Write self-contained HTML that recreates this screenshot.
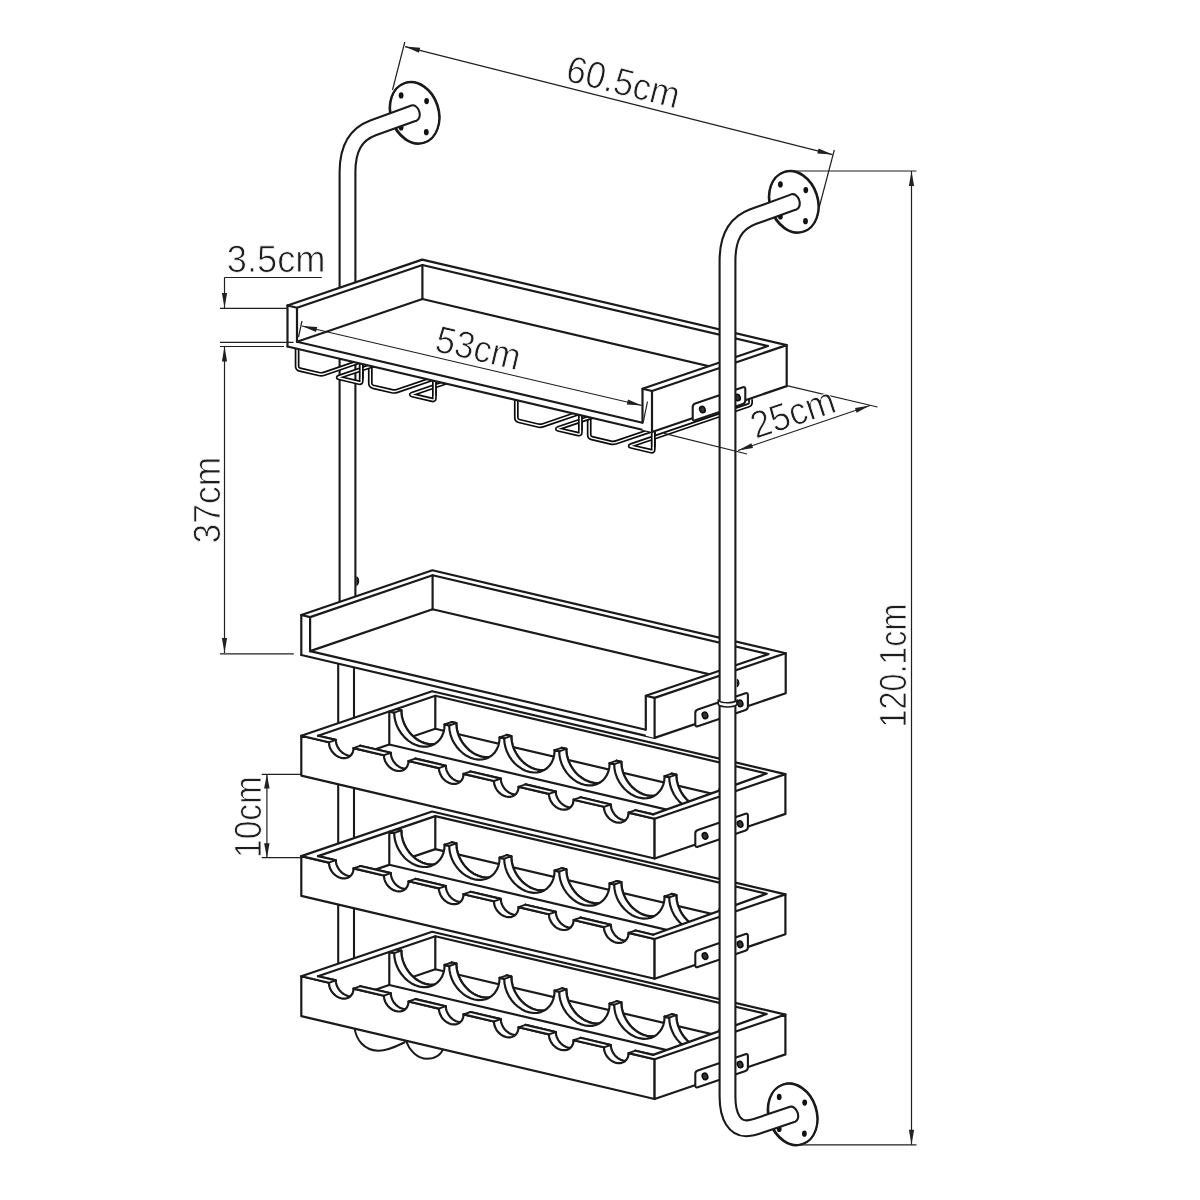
<!DOCTYPE html>
<html><head><meta charset="utf-8"><title>Wine rack dimensions</title>
<style>html,body{margin:0;padding:0;background:#fff}svg{display:block} text{text-rendering:geometricPrecision}</style></head>
<body>
<svg width="1200" height="1200" viewBox="0 0 1200 1200">
<g transform="translate(414.4,113) rotate(-18)"><ellipse rx="24" ry="31.4" fill="#fff" stroke="#1a1a1a" stroke-width="2.1"/><ellipse cx="0.9" cy="-0.3" rx="23.9" ry="31.4" fill="none" stroke="#1a1a1a" stroke-width="1.5"/></g>
<ellipse cx="401.1" cy="95.4" rx="2.4" ry="3.1" fill="#111"/>
<ellipse cx="426.6" cy="101.1" rx="2.4" ry="3.1" fill="#111"/>
<ellipse cx="401.1" cy="127.4" rx="2.4" ry="3.1" fill="#111"/>
<ellipse cx="426.3" cy="132.2" rx="2.4" ry="3.1" fill="#111"/>
<path d="M346.1 1005 L346.1 640" fill="none" stroke="#1a1a1a" stroke-width="17.9"/>
<path d="M346.1 1005 L346.1 640" fill="none" stroke="#fff" stroke-width="13.7"/>
<path d="M347.5 640 L347.5 172 C347.5 149 355 134.6 373 127.9 L414.1 113" fill="none" stroke="#1a1a1a" stroke-width="17.9"/>
<ellipse cx="414.1" cy="113" rx="5.4" ry="7.9" transform="rotate(-18.5 414.1 113)" fill="#fff" stroke="#1a1a1a" stroke-width="2.1"/>
<path d="M347.5 640 L347.5 172 C347.5 149 355 134.6 373 127.9 L414.1 113" fill="none" stroke="#fff" stroke-width="13.7"/>
<path d="M356.3 576.3 C360.2 577 360.2 585.4 356.3 586 Z" fill="#1a1a1a"/>
<path d="M354.4 1027 C356 1040 364 1050 378 1050.7 C388 1051 397 1046 405.3 1042" fill="none" stroke="#1a1a1a" stroke-width="2"/>
<path d="M406 1040 C409 1051 418 1058.5 427 1058.7 C435 1058.7 441 1055 443.6 1048" fill="none" stroke="#1a1a1a" stroke-width="2"/>
<path d="M297.1 345.8 L297.1 366.2 Q297.1 369 299.9 369.6 L318.8 374 Q321.5 374.7 324.1 373.8 L361.2 361.1" fill="none" stroke="#0c0c0c" stroke-width="4.8" stroke-linejoin="round" stroke-linecap="butt"/>
<path d="M297.1 345.8 L297.1 366.2 Q297.1 369 299.9 369.6 L318.8 374 Q321.5 374.7 324.1 373.8 L361.2 361.1" fill="none" stroke="#fff" stroke-width="1.4" stroke-linejoin="round" stroke-linecap="butt"/>
<path d="M370.3 362.9 L370.3 383.3 Q370.3 386.1 373 386.8 L391.9 391.2 Q394.6 391.8 397.2 390.9 L434.3 378.3" fill="none" stroke="#0c0c0c" stroke-width="4.8" stroke-linejoin="round" stroke-linecap="butt"/>
<path d="M370.3 362.9 L370.3 383.3 Q370.3 386.1 373 386.8 L391.9 391.2 Q394.6 391.8 397.2 390.9 L434.3 378.3" fill="none" stroke="#fff" stroke-width="1.4" stroke-linejoin="round" stroke-linecap="butt"/>
<path d="M516.3 397.2 L516.3 417.6 Q516.3 420.4 519 421 L537.9 425.5 Q540.6 426.1 543.3 425.2 L580.4 412.5" fill="none" stroke="#0c0c0c" stroke-width="4.8" stroke-linejoin="round" stroke-linecap="butt"/>
<path d="M516.3 397.2 L516.3 417.6 Q516.3 420.4 519 421 L537.9 425.5 Q540.6 426.1 543.3 425.2 L580.4 412.5" fill="none" stroke="#fff" stroke-width="1.4" stroke-linejoin="round" stroke-linecap="butt"/>
<path d="M589.2 414.3 L589.2 434.7 Q589.2 437.5 591.9 438.1 L610.8 442.6 Q613.5 443.2 616.2 442.3 L653.3 429.7" fill="none" stroke="#0c0c0c" stroke-width="4.8" stroke-linejoin="round" stroke-linecap="butt"/>
<path d="M589.2 414.3 L589.2 434.7 Q589.2 437.5 591.9 438.1 L610.8 442.6 Q613.5 443.2 616.2 442.3 L653.3 429.7" fill="none" stroke="#fff" stroke-width="1.4" stroke-linejoin="round" stroke-linecap="butt"/>
<path d="M361.3 360.8 L361.3 381 Q361.3 383.2 359.2 382.7 L339.2 378 Q337.1 377.5 339.1 376.8 L376.8 364" fill="none" stroke="#0c0c0c" stroke-width="4.8" stroke-linejoin="round" stroke-linecap="butt"/>
<path d="M361.3 360.8 L361.3 381 Q361.3 383.2 359.2 382.7 L339.2 378 Q337.1 377.5 339.1 376.8 L376.8 364" fill="none" stroke="#fff" stroke-width="1.4" stroke-linejoin="round" stroke-linecap="butt"/>
<path d="M361.3 360.8 L361.3 378.8" fill="none" stroke="#0c0c0c" stroke-width="4.8"/>
<path d="M361.3 360.8 L361.3 380.3" fill="none" stroke="#fff" stroke-width="1.4"/>
<path d="M434.4 378 L434.4 398.2 Q434.4 400.4 432.3 399.9 L412.3 395.2 Q410.2 394.7 412.2 394 L449.9 381.1" fill="none" stroke="#0c0c0c" stroke-width="4.8" stroke-linejoin="round" stroke-linecap="butt"/>
<path d="M434.4 378 L434.4 398.2 Q434.4 400.4 432.3 399.9 L412.3 395.2 Q410.2 394.7 412.2 394 L449.9 381.1" fill="none" stroke="#fff" stroke-width="1.4" stroke-linejoin="round" stroke-linecap="butt"/>
<path d="M434.4 378 L434.4 396" fill="none" stroke="#0c0c0c" stroke-width="4.8"/>
<path d="M434.4 378 L434.4 397.5" fill="none" stroke="#fff" stroke-width="1.4"/>
<path d="M580.4 412.2 L580.4 432.4 Q580.4 434.6 578.3 434.1 L558.3 429.5 Q556.2 428.9 558.3 428.2 L596 415.4" fill="none" stroke="#0c0c0c" stroke-width="4.8" stroke-linejoin="round" stroke-linecap="butt"/>
<path d="M580.4 412.2 L580.4 432.4 Q580.4 434.6 578.3 434.1 L558.3 429.5 Q556.2 428.9 558.3 428.2 L596 415.4" fill="none" stroke="#fff" stroke-width="1.4" stroke-linejoin="round" stroke-linecap="butt"/>
<path d="M580.4 412.2 L580.4 430.2" fill="none" stroke="#0c0c0c" stroke-width="4.8"/>
<path d="M580.4 412.2 L580.4 431.7" fill="none" stroke="#fff" stroke-width="1.4"/>
<path d="M653.3 429.3 L653.3 449.5 Q653.3 451.7 651.1 451.2 L631.2 446.5 Q629 446 631.1 445.3 L748.6 405.3 Q750.6 404.6 750.6 402.4 L750.6 399.2" fill="none" stroke="#0c0c0c" stroke-width="4.8" stroke-linejoin="round" stroke-linecap="butt"/>
<path d="M653.3 429.3 L653.3 449.5 Q653.3 451.7 651.1 451.2 L631.2 446.5 Q629 446 631.1 445.3 L748.6 405.3 Q750.6 404.6 750.6 402.4 L750.6 399.2" fill="none" stroke="#fff" stroke-width="1.4" stroke-linejoin="round" stroke-linecap="butt"/>
<path d="M653.3 429.3 L653.3 447.3" fill="none" stroke="#0c0c0c" stroke-width="4.8"/>
<path d="M653.3 429.3 L653.3 448.8" fill="none" stroke="#fff" stroke-width="1.4"/>
<path d="M287.5 305.5 L422.2 259.6 L786.7 345.1 L786.7 386.1 L652 432 L287.5 346.5Z" fill="#fff" stroke="none"/>
<path d="M297 341.7 L422.4 299 L767.9 380" fill="none" stroke="#1a1a1a" stroke-width="2.2" stroke-linejoin="round" stroke-linecap="round" />
<path d="M422.4 265 L422.4 299" fill="none" stroke="#1a1a1a" stroke-width="2.2" stroke-linejoin="round" stroke-linecap="round" />
<path d="M297 307.7 L422.4 265 L767.9 346" fill="none" stroke="#1a1a1a" stroke-width="2.2" stroke-linejoin="round" stroke-linecap="round" />
<path d="M287.5 305.5 L422.2 259.6 L786.7 345.1" fill="none" stroke="#1a1a1a" stroke-width="2.2" stroke-linejoin="round" stroke-linecap="round" />
<path d="M287.5 305.5 L297 307.7 L297 341.7" fill="none" stroke="#1a1a1a" stroke-width="2.2" stroke-linejoin="round" stroke-linecap="round" />
<path d="M287.5 305.5 L287.5 346.5" fill="none" stroke="#1a1a1a" stroke-width="2.2" stroke-linejoin="round" stroke-linecap="round" />
<path d="M297 341.7 L642.5 422.8" fill="none" stroke="#1a1a1a" stroke-width="2.2" stroke-linejoin="round" stroke-linecap="round" />
<path d="M287.5 346.5 L652 432" fill="none" stroke="#1a1a1a" stroke-width="2.2" stroke-linejoin="round" stroke-linecap="round" />
<path d="M642.5 388.8 L767.9 346 L786.7 345.1 L786.7 386.1 L652 432 L642.5 429.8Z" fill="#fff" stroke="none"/>
<path d="M642.5 422.8 L642.5 388.8 L767.9 346" fill="none" stroke="#1a1a1a" stroke-width="2.2" stroke-linejoin="round" stroke-linecap="round" />
<path d="M642.5 388.8 L652 391" fill="none" stroke="#1a1a1a" stroke-width="2.2" stroke-linejoin="round" stroke-linecap="round" />
<path d="M652 391 L786.7 345.1 L786.7 386.1 L652 432Z" fill="#fff" stroke="#1a1a1a" stroke-width="2.2" stroke-linejoin="round"/>
<path d="M767.9 346 L786.7 345.1" fill="none" stroke="#1a1a1a" stroke-width="0" stroke-linejoin="round" stroke-linecap="round" />
<path d="M692.7 407.1 Q692.7 404.5 695.2 403.6 L742.9 387.3 Q745.3 386.5 745.3 389.1 L745.3 400.6 Q745.3 403.2 742.9 404 L695.2 420.3 Q692.7 421.2 692.7 418.6 Z" fill="#fff" stroke="#1a1a1a" stroke-width="2.1" stroke-linejoin="round"/>
<ellipse cx="702.4" cy="409.5" rx="2.7" ry="3.3" transform="rotate(-19 702.4 409.5)" fill="#333" stroke="#0a0a0a" stroke-width="1.5"/>
<ellipse cx="737.5" cy="397.5" rx="2.7" ry="3.3" transform="rotate(-19 737.5 397.5)" fill="#333" stroke="#0a0a0a" stroke-width="1.5"/>
<path d="M301.3 615 L432.4 570.3 L785.7 653.2 L785.7 693.2 L654.6 737.9 L301.3 655Z" fill="#fff" stroke="none"/>
<path d="M310.1 651.1 L432.6 609.3 L768.4 688.1" fill="none" stroke="#1a1a1a" stroke-width="2.2" stroke-linejoin="round" stroke-linecap="round" />
<path d="M432.6 575.3 L432.6 609.3" fill="none" stroke="#1a1a1a" stroke-width="2.2" stroke-linejoin="round" stroke-linecap="round" />
<path d="M310.1 617.1 L432.6 575.3 L768.4 654.1" fill="none" stroke="#1a1a1a" stroke-width="2.2" stroke-linejoin="round" stroke-linecap="round" />
<path d="M301.3 615 L432.4 570.3 L785.7 653.2" fill="none" stroke="#1a1a1a" stroke-width="2.2" stroke-linejoin="round" stroke-linecap="round" />
<path d="M301.3 615 L310.1 617.1 L310.1 651.1" fill="none" stroke="#1a1a1a" stroke-width="2.2" stroke-linejoin="round" stroke-linecap="round" />
<path d="M301.3 615 L301.3 655" fill="none" stroke="#1a1a1a" stroke-width="2.2" stroke-linejoin="round" stroke-linecap="round" />
<path d="M310.1 651.1 L645.8 729.8" fill="none" stroke="#1a1a1a" stroke-width="2.2" stroke-linejoin="round" stroke-linecap="round" />
<path d="M301.3 655 L654.6 737.9" fill="none" stroke="#1a1a1a" stroke-width="2.2" stroke-linejoin="round" stroke-linecap="round" />
<path d="M645.8 695.8 L768.4 654.1 L785.7 653.2 L785.7 693.2 L654.6 737.9 L645.8 735.8Z" fill="#fff" stroke="none"/>
<path d="M645.8 729.8 L645.8 695.8 L768.4 654.1" fill="none" stroke="#1a1a1a" stroke-width="2.2" stroke-linejoin="round" stroke-linecap="round" />
<path d="M645.8 695.8 L654.6 697.9" fill="none" stroke="#1a1a1a" stroke-width="2.2" stroke-linejoin="round" stroke-linecap="round" />
<path d="M654.6 697.9 L785.7 653.2 L785.7 693.2 L654.6 737.9Z" fill="#fff" stroke="#1a1a1a" stroke-width="2.2" stroke-linejoin="round"/>
<path d="M768.4 654.1 L785.7 653.2" fill="none" stroke="#1a1a1a" stroke-width="0" stroke-linejoin="round" stroke-linecap="round" />
<path d="M695.3 712.9 Q695.3 710.3 697.8 709.5 L745.5 693.2 Q747.9 692.4 747.9 695 L747.9 706.5 Q747.9 709.1 745.5 709.9 L697.8 726.2 Q695.3 727 695.3 724.4 Z" fill="#fff" stroke="#1a1a1a" stroke-width="2.1" stroke-linejoin="round"/>
<ellipse cx="705" cy="715.3" rx="2.7" ry="3.3" transform="rotate(-19 705 715.3)" fill="#333" stroke="#0a0a0a" stroke-width="1.5"/>
<ellipse cx="740.1" cy="703.4" rx="2.7" ry="3.3" transform="rotate(-19 740.1 703.4)" fill="#333" stroke="#0a0a0a" stroke-width="1.5"/>
<path d="M301.3 735.8 L432.1 691.2 L785.4 774.1 L785.4 813.9 L654.6 858.5 L301.3 775.6Z" fill="#fff" stroke="none"/>
<path d="M318 768.8 L435.3 728.8 L766.7 806.5" fill="none" stroke="#1a1a1a" stroke-width="2.2" stroke-linejoin="round" stroke-linecap="round" />
<path d="M435.3 695.8 L435.3 728.8" fill="none" stroke="#1a1a1a" stroke-width="2.2" stroke-linejoin="round" stroke-linecap="round" />
<path d="M396.4 709 L401.3 710.2 L401.6 714.6 L402.5 719 L404 723.3 L406.1 727.5 L408.7 731.4 L411.7 734.9 L415 738 L418.7 740.5 L422.5 742.4 L426.5 743.7 L430.4 744.3 L434.3 744.2 L437.9 743.4 L441.3 741.9 L444.3 739.8 L446.9 737.1 L449 733.9 L450.5 730.2 L451.4 726.3 L451.7 722 L456.3 723.1 L456.6 727.5 L457.5 731.9 L459 736.3 L461.1 740.4 L463.7 744.3 L466.7 747.8 L470 750.9 L473.7 753.4 L477.6 755.3 L481.5 756.6 L485.4 757.2 L489.3 757.1 L492.9 756.3 L496.3 754.8 L499.3 752.7 L501.9 750 L504 746.8 L505.5 743.2 L506.4 739.2 L506.7 734.9 L511.3 736 L511.6 740.4 L512.5 744.8 L514 749.2 L516.1 753.3 L518.7 757.2 L521.7 760.8 L525.1 763.8 L528.7 766.3 L532.6 768.2 L536.5 769.5 L540.4 770.1 L544.3 770 L547.9 769.2 L551.3 767.7 L554.3 765.6 L556.9 762.9 L559 759.7 L560.5 756.1 L561.4 752.1 L561.7 747.8 L566.3 748.9 L566.6 753.3 L567.5 757.7 L569 762.1 L571.1 766.2 L573.7 770.1 L576.7 773.7 L580.1 776.7 L583.7 779.2 L587.6 781.1 L591.5 782.4 L595.5 783 L599.3 782.9 L603 782.1 L606.3 780.6 L609.3 778.5 L611.9 775.8 L614 772.6 L615.5 769 L616.4 765 L616.7 760.7 L621.3 761.8 L621.6 766.2 L622.5 770.6 L624 775 L626.1 779.2 L628.7 783 L631.7 786.6 L635.1 789.6 L638.7 792.1 L642.6 794.1 L646.5 795.3 L650.5 795.9 L654.3 795.8 L658 795 L661.3 793.5 L664.3 791.4 L666.9 788.7 L669 785.5 L670.5 781.9 L671.4 777.9 L671.7 773.6 L676.3 774.7 L676.6 779.1 L677.5 783.5 L679.1 787.9 L681.1 792.1 L683.7 796 L686.7 799.5 L690.1 802.5 L693.7 805 L697.6 807 L701.5 808.2 L705.5 808.8 L709.3 808.7 L713 807.9 L716.3 806.4 L719.3 804.3 L721.9 801.6 L724 798.4 L725.5 794.8 L726.4 790.8 L726.7 786.5 L729.3 787.1 L729.3 820.1 L396.4 742Z" fill="#fff" stroke="none"/>
<path d="M401.3 710.2 L401.6 714.6 L402.5 719 L404 723.3 L406.1 727.5 L408.7 731.4 L411.7 734.9 L415 738 L418.7 740.5 L422.5 742.4 L426.5 743.7 L430.4 744.3 L434.3 744.2 L437.9 743.4 L441.3 741.9 L444.3 739.8 L446.9 737.1 L449 733.9 L450.5 730.2 L451.4 726.3 L451.7 722 L456.3 723.1 L456.6 727.5 L457.5 731.9 L459 736.3 L461.1 740.4 L463.7 744.3 L466.7 747.8 L470 750.9 L473.7 753.4 L477.6 755.3 L481.5 756.6 L485.4 757.2 L489.3 757.1 L492.9 756.3 L496.3 754.8 L499.3 752.7 L501.9 750 L504 746.8 L505.5 743.2 L506.4 739.2 L506.7 734.9 L511.3 736 L511.6 740.4 L512.5 744.8 L514 749.2 L516.1 753.3 L518.7 757.2 L521.7 760.8 L525.1 763.8 L528.7 766.3 L532.6 768.2 L536.5 769.5 L540.4 770.1 L544.3 770 L547.9 769.2 L551.3 767.7 L554.3 765.6 L556.9 762.9 L559 759.7 L560.5 756.1 L561.4 752.1 L561.7 747.8 L566.3 748.9 L566.6 753.3 L567.5 757.7 L569 762.1 L571.1 766.2 L573.7 770.1 L576.7 773.7 L580.1 776.7 L583.7 779.2 L587.6 781.1 L591.5 782.4 L595.5 783 L599.3 782.9 L603 782.1 L606.3 780.6 L609.3 778.5 L611.9 775.8 L614 772.6 L615.5 769 L616.4 765 L616.7 760.7 L621.3 761.8 L621.6 766.2 L622.5 770.6 L624 775 L626.1 779.2 L628.7 783 L631.7 786.6 L635.1 789.6 L638.7 792.1 L642.6 794.1 L646.5 795.3 L650.5 795.9 L654.3 795.8 L658 795 L661.3 793.5 L664.3 791.4 L666.9 788.7 L669 785.5 L670.5 781.9 L671.4 777.9 L671.7 773.6 L676.3 774.7 L676.6 779.1 L677.5 783.5 L679.1 787.9 L681.1 792.1 L683.7 796 L686.7 799.5 L690.1 802.5 L693.7 805 L697.6 807 L701.5 808.2 L705.5 808.8 L709.3 808.7 L713 807.9 L716.3 806.4 L719.3 804.3 L721.9 801.6 L724 798.4 L725.5 794.8 L726.4 790.8 L726.7 786.5" fill="none" stroke="#1a1a1a" stroke-width="2.2" stroke-linejoin="round" stroke-linecap="round" />
<path d="M394.2 712.6 L394.3 714.8 L394.5 717 L394.9 719.2 L395.4 721.4 L396.1 723.6 L396.9 725.8 L397.9 727.9 L399 729.9 L400.2 731.9 L401.6 733.8 L403 735.7 L404.6 737.4 L406.2 739 L407.9 740.4 L409.7 741.7 L411.6 742.9 L413.5 744 L415.4 744.8 L417.4 745.6 L419.4 746.1 L421.4 746.5 L423.3 746.7 L425.3 746.7 L427.2 746.6 L429 746.3 L430.8 745.8 L437.9 743.4 L436.1 743.9 L434.3 744.2 L432.4 744.3 L430.4 744.3 L428.5 744.1 L426.5 743.7 L424.5 743.1 L422.5 742.4 L420.6 741.5 L418.7 740.5 L416.8 739.3 L415 738 L413.3 736.5 L411.7 734.9 L410.1 733.2 L408.7 731.4 L407.3 729.5 L406.1 727.5 L405 725.5 L404 723.3 L403.2 721.2 L402.5 719 L402 716.8 L401.6 714.6 L401.4 712.4 L401.3 710.2Z" fill="#fff" stroke="none"/>
<path d="M401.3 710.2 L401.4 712.4 L401.6 714.6 L402 716.8 L402.5 719 L403.2 721.2 L404 723.3 L405 725.5 L406.1 727.5 L407.3 729.5 L408.7 731.4 L410.1 733.2 L411.7 734.9 L413.3 736.5 L415 738 L416.8 739.3 L418.7 740.5 L420.6 741.5 L422.5 742.4 L424.5 743.1 L426.5 743.7 L428.5 744.1 L430.4 744.3 L432.4 744.3 L434.3 744.2 L436.1 743.9 L437.9 743.4" fill="none" stroke="#1a1a1a" stroke-width="2.2" stroke-linejoin="round" stroke-linecap="round" />
<path d="M449.2 725.5 L449.3 727.7 L449.5 729.9 L449.9 732.1 L450.4 734.3 L451.1 736.5 L451.9 738.7 L452.9 740.8 L454 742.9 L455.2 744.8 L456.6 746.7 L458 748.6 L459.6 750.3 L461.2 751.9 L463 753.3 L464.7 754.7 L466.6 755.8 L468.5 756.9 L470.5 757.8 L472.4 758.5 L474.4 759 L476.4 759.4 L478.3 759.6 L480.3 759.6 L482.2 759.5 L484 759.2 L485.8 758.7 L492.9 756.3 L491.1 756.8 L489.3 757.1 L487.4 757.2 L485.4 757.2 L483.5 757 L481.5 756.6 L479.5 756 L477.6 755.3 L475.6 754.5 L473.7 753.4 L471.8 752.2 L470 750.9 L468.3 749.4 L466.7 747.8 L465.1 746.1 L463.7 744.3 L462.3 742.4 L461.1 740.4 L460 738.4 L459 736.3 L458.2 734.1 L457.5 731.9 L457 729.7 L456.6 727.5 L456.4 725.3 L456.3 723.1Z" fill="#fff" stroke="none"/>
<path d="M456.3 723.1 L456.4 725.3 L456.6 727.5 L457 729.7 L457.5 731.9 L458.2 734.1 L459 736.3 L460 738.4 L461.1 740.4 L462.3 742.4 L463.7 744.3 L465.1 746.1 L466.7 747.8 L468.3 749.4 L470 750.9 L471.8 752.2 L473.7 753.4 L475.6 754.5 L477.6 755.3 L479.5 756 L481.5 756.6 L483.5 757 L485.4 757.2 L487.4 757.2 L489.3 757.1 L491.1 756.8 L492.9 756.3" fill="none" stroke="#1a1a1a" stroke-width="2.2" stroke-linejoin="round" stroke-linecap="round" />
<path d="M504.2 738.4 L504.3 740.6 L504.5 742.8 L504.9 745 L505.4 747.2 L506.1 749.4 L506.9 751.6 L507.9 753.7 L509 755.8 L510.2 757.7 L511.6 759.7 L513 761.5 L514.6 763.2 L516.2 764.8 L518 766.2 L519.8 767.6 L521.6 768.7 L523.5 769.8 L525.5 770.7 L527.4 771.4 L529.4 771.9 L531.4 772.3 L533.3 772.5 L535.3 772.5 L537.2 772.4 L539.1 772.1 L540.9 771.6 L547.9 769.2 L546.2 769.7 L544.3 770 L542.4 770.1 L540.4 770.1 L538.5 769.9 L536.5 769.5 L534.5 769 L532.6 768.2 L530.6 767.4 L528.7 766.3 L526.9 765.1 L525.1 763.8 L523.3 762.3 L521.7 760.8 L520.1 759 L518.7 757.2 L517.3 755.3 L516.1 753.3 L515 751.3 L514 749.2 L513.2 747 L512.5 744.8 L512 742.6 L511.6 740.4 L511.4 738.2 L511.3 736Z" fill="#fff" stroke="none"/>
<path d="M511.3 736 L511.4 738.2 L511.6 740.4 L512 742.6 L512.5 744.8 L513.2 747 L514 749.2 L515 751.3 L516.1 753.3 L517.3 755.3 L518.7 757.2 L520.1 759 L521.7 760.8 L523.3 762.3 L525.1 763.8 L526.9 765.1 L528.7 766.3 L530.6 767.4 L532.6 768.2 L534.5 769 L536.5 769.5 L538.5 769.9 L540.4 770.1 L542.4 770.1 L544.3 770 L546.2 769.7 L547.9 769.2" fill="none" stroke="#1a1a1a" stroke-width="2.2" stroke-linejoin="round" stroke-linecap="round" />
<path d="M559.2 751.3 L559.3 753.5 L559.5 755.7 L559.9 757.9 L560.4 760.1 L561.1 762.3 L561.9 764.5 L562.9 766.6 L564 768.7 L565.2 770.7 L566.6 772.6 L568 774.4 L569.6 776.1 L571.2 777.7 L573 779.1 L574.8 780.5 L576.6 781.7 L578.5 782.7 L580.5 783.6 L582.4 784.3 L584.4 784.8 L586.4 785.2 L588.4 785.4 L590.3 785.4 L592.2 785.3 L594.1 785 L595.9 784.5 L603 782.1 L601.2 782.6 L599.3 782.9 L597.4 783 L595.5 783 L593.5 782.8 L591.5 782.4 L589.5 781.9 L587.6 781.1 L585.6 780.3 L583.7 779.2 L581.9 778 L580.1 776.7 L578.3 775.3 L576.7 773.7 L575.1 772 L573.7 770.1 L572.3 768.2 L571.1 766.2 L570 764.2 L569 762.1 L568.2 759.9 L567.5 757.7 L567 755.5 L566.6 753.3 L566.4 751.1 L566.3 748.9Z" fill="#fff" stroke="none"/>
<path d="M566.3 748.9 L566.4 751.1 L566.6 753.3 L567 755.5 L567.5 757.7 L568.2 759.9 L569 762.1 L570 764.2 L571.1 766.2 L572.3 768.2 L573.7 770.1 L575.1 772 L576.7 773.7 L578.3 775.3 L580.1 776.7 L581.9 778 L583.7 779.2 L585.6 780.3 L587.6 781.1 L589.5 781.9 L591.5 782.4 L593.5 782.8 L595.5 783 L597.4 783 L599.3 782.9 L601.2 782.6 L603 782.1" fill="none" stroke="#1a1a1a" stroke-width="2.2" stroke-linejoin="round" stroke-linecap="round" />
<path d="M614.2 764.2 L614.3 766.4 L614.5 768.6 L614.9 770.8 L615.4 773 L616.1 775.2 L616.9 777.4 L617.9 779.5 L619 781.6 L620.2 783.6 L621.6 785.5 L623 787.3 L624.6 789 L626.2 790.6 L628 792 L629.8 793.4 L631.6 794.6 L633.5 795.6 L635.5 796.5 L637.4 797.2 L639.4 797.7 L641.4 798.1 L643.4 798.3 L645.3 798.4 L647.2 798.2 L649.1 797.9 L650.9 797.4 L658 795 L656.2 795.5 L654.3 795.8 L652.4 795.9 L650.5 795.9 L648.5 795.7 L646.5 795.3 L644.5 794.8 L642.6 794.1 L640.6 793.2 L638.7 792.1 L636.9 791 L635.1 789.6 L633.3 788.2 L631.7 786.6 L630.1 784.9 L628.7 783 L627.3 781.1 L626.1 779.2 L625 777.1 L624 775 L623.2 772.8 L622.5 770.6 L622 768.4 L621.6 766.2 L621.4 764 L621.3 761.8Z" fill="#fff" stroke="none"/>
<path d="M621.3 761.8 L621.4 764 L621.6 766.2 L622 768.4 L622.5 770.6 L623.2 772.8 L624 775 L625 777.1 L626.1 779.2 L627.3 781.1 L628.7 783 L630.1 784.9 L631.7 786.6 L633.3 788.2 L635.1 789.6 L636.9 791 L638.7 792.1 L640.6 793.2 L642.6 794.1 L644.5 794.8 L646.5 795.3 L648.5 795.7 L650.5 795.9 L652.4 795.9 L654.3 795.8 L656.2 795.5 L658 795" fill="none" stroke="#1a1a1a" stroke-width="2.2" stroke-linejoin="round" stroke-linecap="round" />
<path d="M669.2 777.1 L669.3 779.3 L669.5 781.5 L669.9 783.7 L670.4 785.9 L671.1 788.1 L672 790.3 L672.9 792.4 L674 794.5 L675.2 796.5 L676.6 798.4 L678 800.2 L679.6 801.9 L681.2 803.5 L683 804.9 L684.8 806.3 L686.6 807.5 L688.5 808.5 L690.5 809.4 L692.4 810.1 L694.4 810.6 L696.4 811 L698.4 811.2 L700.3 811.3 L702.2 811.1 L704.1 810.8 L705.9 810.3 L713 807.9 L711.2 808.4 L709.3 808.7 L707.4 808.8 L705.5 808.8 L703.5 808.6 L701.5 808.2 L699.5 807.7 L697.6 807 L695.6 806.1 L693.7 805 L691.9 803.9 L690.1 802.5 L688.3 801.1 L686.7 799.5 L685.1 797.8 L683.7 796 L682.3 794 L681.1 792.1 L680 790 L679.1 787.9 L678.2 785.7 L677.5 783.5 L677 781.3 L676.6 779.1 L676.4 776.9 L676.3 774.7Z" fill="#fff" stroke="none"/>
<path d="M676.3 774.7 L676.4 776.9 L676.6 779.1 L677 781.3 L677.5 783.5 L678.2 785.7 L679.1 787.9 L680 790 L681.1 792.1 L682.3 794 L683.7 796 L685.1 797.8 L686.7 799.5 L688.3 801.1 L690.1 802.5 L691.9 803.9 L693.7 805 L695.6 806.1 L697.6 807 L699.5 807.7 L701.5 808.2 L703.5 808.6 L705.5 808.8 L707.4 808.8 L709.3 808.7 L711.2 808.4 L713 807.9" fill="none" stroke="#1a1a1a" stroke-width="2.2" stroke-linejoin="round" stroke-linecap="round" />
<path d="M389.3 711.5 L394.2 712.6 L394.5 717 L395.4 721.4 L396.9 725.8 L399 729.9 L401.6 733.8 L404.6 737.4 L407.9 740.4 L411.6 742.9 L415.4 744.8 L419.4 746.1 L423.3 746.7 L427.2 746.6 L430.8 745.8 L434.2 744.3 L437.2 742.2 L439.8 739.5 L441.9 736.3 L443.4 732.7 L444.3 728.7 L444.6 724.4 L449.2 725.5 L449.5 729.9 L450.4 734.3 L451.9 738.7 L454 742.9 L456.6 746.7 L459.6 750.3 L463 753.3 L466.6 755.8 L470.5 757.8 L474.4 759 L478.3 759.6 L482.2 759.5 L485.8 758.7 L489.2 757.2 L492.2 755.1 L494.8 752.4 L496.9 749.2 L498.4 745.6 L499.3 741.6 L499.6 737.3 L504.2 738.4 L504.5 742.8 L505.4 747.2 L506.9 751.6 L509 755.8 L511.6 759.7 L514.6 763.2 L518 766.2 L521.6 768.7 L525.5 770.7 L529.4 771.9 L533.3 772.5 L537.2 772.4 L540.9 771.6 L544.2 770.1 L547.2 768 L549.8 765.3 L551.9 762.1 L553.4 758.5 L554.3 754.5 L554.6 750.2 L559.2 751.3 L559.5 755.7 L560.4 760.1 L561.9 764.5 L564 768.7 L566.6 772.6 L569.6 776.1 L573 779.1 L576.6 781.7 L580.5 783.6 L584.4 784.8 L588.4 785.4 L592.2 785.3 L595.9 784.5 L599.2 783 L602.2 780.9 L604.8 778.2 L606.9 775 L608.4 771.4 L609.3 767.4 L609.6 763.1 L614.2 764.2 L614.5 768.6 L615.4 773 L616.9 777.4 L619 781.6 L621.6 785.5 L624.6 789 L628 792 L631.6 794.6 L635.5 796.5 L639.4 797.7 L643.4 798.3 L647.2 798.2 L650.9 797.4 L654.2 795.9 L657.2 793.8 L659.8 791.1 L661.9 787.9 L663.4 784.3 L664.3 780.3 L664.6 776.1 L669.2 777.1 L669.5 781.5 L670.4 785.9 L672 790.3 L674 794.5 L676.6 798.4 L679.6 801.9 L683 804.9 L686.6 807.5 L690.5 809.4 L694.4 810.6 L698.4 811.2 L702.2 811.1 L705.9 810.3 L709.2 808.9 L712.2 806.7 L714.8 804.1 L716.9 800.8 L718.4 797.2 L719.3 793.2 L719.6 789 L722.2 789.6 L722.2 822.6 L389.3 744.5Z" fill="#fff" stroke="none"/>
<path d="M722.2 822.6 L389.3 744.5 L389.3 711.5 L394.2 712.6 L394.5 717 L395.4 721.4 L396.9 725.8 L399 729.9 L401.6 733.8 L404.6 737.4 L407.9 740.4 L411.6 742.9 L415.4 744.8 L419.4 746.1 L423.3 746.7 L427.2 746.6 L430.8 745.8 L434.2 744.3 L437.2 742.2 L439.8 739.5 L441.9 736.3 L443.4 732.7 L444.3 728.7 L444.6 724.4 L449.2 725.5 L449.5 729.9 L450.4 734.3 L451.9 738.7 L454 742.9 L456.6 746.7 L459.6 750.3 L463 753.3 L466.6 755.8 L470.5 757.8 L474.4 759 L478.3 759.6 L482.2 759.5 L485.8 758.7 L489.2 757.2 L492.2 755.1 L494.8 752.4 L496.9 749.2 L498.4 745.6 L499.3 741.6 L499.6 737.3 L504.2 738.4 L504.5 742.8 L505.4 747.2 L506.9 751.6 L509 755.8 L511.6 759.7 L514.6 763.2 L518 766.2 L521.6 768.7 L525.5 770.7 L529.4 771.9 L533.3 772.5 L537.2 772.4 L540.9 771.6 L544.2 770.1 L547.2 768 L549.8 765.3 L551.9 762.1 L553.4 758.5 L554.3 754.5 L554.6 750.2 L559.2 751.3 L559.5 755.7 L560.4 760.1 L561.9 764.5 L564 768.7 L566.6 772.6 L569.6 776.1 L573 779.1 L576.6 781.7 L580.5 783.6 L584.4 784.8 L588.4 785.4 L592.2 785.3 L595.9 784.5 L599.2 783 L602.2 780.9 L604.8 778.2 L606.9 775 L608.4 771.4 L609.3 767.4 L609.6 763.1 L614.2 764.2 L614.5 768.6 L615.4 773 L616.9 777.4 L619 781.6 L621.6 785.5 L624.6 789 L628 792 L631.6 794.6 L635.5 796.5 L639.4 797.7 L643.4 798.3 L647.2 798.2 L650.9 797.4 L654.2 795.9 L657.2 793.8 L659.8 791.1 L661.9 787.9 L663.4 784.3 L664.3 780.3 L664.6 776.1 L669.2 777.1 L669.5 781.5 L670.4 785.9 L672 790.3 L674 794.5 L676.6 798.4 L679.6 801.9 L683 804.9 L686.6 807.5 L690.5 809.4 L694.4 810.6 L698.4 811.2 L702.2 811.1 L705.9 810.3 L709.2 808.9 L712.2 806.7 L714.8 804.1 L716.9 800.8 L718.4 797.2 L719.3 793.2 L719.6 789 L722.2 789.6" fill="none" stroke="#1a1a1a" stroke-width="2.2" stroke-linejoin="round" stroke-linecap="round" />
<path d="M389.3 711.5 L394.2 712.6 L401.3 710.2 L396.4 709Z" fill="#fff" stroke="none"/>
<path d="M394.2 712.6 L401.3 710.2" fill="none" stroke="#1a1a1a" stroke-width="1.9" stroke-linejoin="round" stroke-linecap="round" />
<path d="M396.4 709 L401.3 710.2" fill="none" stroke="#1a1a1a" stroke-width="2.2" stroke-linejoin="round" stroke-linecap="round" />
<path d="M389.3 711.5 L394.2 712.6" fill="none" stroke="#1a1a1a" stroke-width="2.2" stroke-linejoin="round" stroke-linecap="round" />
<path d="M444.6 724.4 L449.2 725.5 L456.3 723.1 L451.7 722Z" fill="#fff" stroke="none"/>
<path d="M444.6 724.4 L451.7 722" fill="none" stroke="#1a1a1a" stroke-width="1.9" stroke-linejoin="round" stroke-linecap="round" />
<path d="M449.2 725.5 L456.3 723.1" fill="none" stroke="#1a1a1a" stroke-width="1.9" stroke-linejoin="round" stroke-linecap="round" />
<path d="M451.7 722 L456.3 723.1" fill="none" stroke="#1a1a1a" stroke-width="2.2" stroke-linejoin="round" stroke-linecap="round" />
<path d="M444.6 724.4 L449.2 725.5" fill="none" stroke="#1a1a1a" stroke-width="2.2" stroke-linejoin="round" stroke-linecap="round" />
<path d="M499.6 737.3 L504.2 738.4 L511.3 736 L506.7 734.9Z" fill="#fff" stroke="none"/>
<path d="M499.6 737.3 L506.7 734.9" fill="none" stroke="#1a1a1a" stroke-width="1.9" stroke-linejoin="round" stroke-linecap="round" />
<path d="M504.2 738.4 L511.3 736" fill="none" stroke="#1a1a1a" stroke-width="1.9" stroke-linejoin="round" stroke-linecap="round" />
<path d="M506.7 734.9 L511.3 736" fill="none" stroke="#1a1a1a" stroke-width="2.2" stroke-linejoin="round" stroke-linecap="round" />
<path d="M499.6 737.3 L504.2 738.4" fill="none" stroke="#1a1a1a" stroke-width="2.2" stroke-linejoin="round" stroke-linecap="round" />
<path d="M554.6 750.2 L559.2 751.3 L566.3 748.9 L561.7 747.8Z" fill="#fff" stroke="none"/>
<path d="M554.6 750.2 L561.7 747.8" fill="none" stroke="#1a1a1a" stroke-width="1.9" stroke-linejoin="round" stroke-linecap="round" />
<path d="M559.2 751.3 L566.3 748.9" fill="none" stroke="#1a1a1a" stroke-width="1.9" stroke-linejoin="round" stroke-linecap="round" />
<path d="M561.7 747.8 L566.3 748.9" fill="none" stroke="#1a1a1a" stroke-width="2.2" stroke-linejoin="round" stroke-linecap="round" />
<path d="M554.6 750.2 L559.2 751.3" fill="none" stroke="#1a1a1a" stroke-width="2.2" stroke-linejoin="round" stroke-linecap="round" />
<path d="M609.6 763.1 L614.2 764.2 L621.3 761.8 L616.7 760.7Z" fill="#fff" stroke="none"/>
<path d="M609.6 763.1 L616.7 760.7" fill="none" stroke="#1a1a1a" stroke-width="1.9" stroke-linejoin="round" stroke-linecap="round" />
<path d="M614.2 764.2 L621.3 761.8" fill="none" stroke="#1a1a1a" stroke-width="1.9" stroke-linejoin="round" stroke-linecap="round" />
<path d="M616.7 760.7 L621.3 761.8" fill="none" stroke="#1a1a1a" stroke-width="2.2" stroke-linejoin="round" stroke-linecap="round" />
<path d="M609.6 763.1 L614.2 764.2" fill="none" stroke="#1a1a1a" stroke-width="2.2" stroke-linejoin="round" stroke-linecap="round" />
<path d="M664.6 776.1 L669.2 777.1 L676.3 774.7 L671.7 773.6Z" fill="#fff" stroke="none"/>
<path d="M664.6 776.1 L671.7 773.6" fill="none" stroke="#1a1a1a" stroke-width="1.9" stroke-linejoin="round" stroke-linecap="round" />
<path d="M669.2 777.1 L676.3 774.7" fill="none" stroke="#1a1a1a" stroke-width="1.9" stroke-linejoin="round" stroke-linecap="round" />
<path d="M671.7 773.6 L676.3 774.7" fill="none" stroke="#1a1a1a" stroke-width="2.2" stroke-linejoin="round" stroke-linecap="round" />
<path d="M664.6 776.1 L669.2 777.1" fill="none" stroke="#1a1a1a" stroke-width="2.2" stroke-linejoin="round" stroke-linecap="round" />
<path d="M719.6 789 L722.2 789.6 L729.3 787.1 L726.7 786.5Z" fill="#fff" stroke="none"/>
<path d="M719.6 789 L726.7 786.5" fill="none" stroke="#1a1a1a" stroke-width="1.9" stroke-linejoin="round" stroke-linecap="round" />
<path d="M726.7 786.5 L729.3 787.1" fill="none" stroke="#1a1a1a" stroke-width="2.2" stroke-linejoin="round" stroke-linecap="round" />
<path d="M719.6 789 L722.2 789.6" fill="none" stroke="#1a1a1a" stroke-width="2.2" stroke-linejoin="round" stroke-linecap="round" />
<path d="M318 735.8 L335.8 739.9 L336 741.9 L336.4 744 L337.2 746 L338.2 747.9 L339.4 749.7 L340.9 751.3 L342.5 752.8 L344.3 753.9 L346.2 754.9 L348.1 755.5 L350.1 755.8 L351.9 755.7 L353.7 755.4 L355.4 754.7 L356.8 753.8 L358.1 752.6 L359.1 751.1 L359.8 749.5 L360.3 747.6 L360.4 745.7 L390.8 752.8 L391 754.8 L391.4 756.9 L392.2 758.9 L393.2 760.8 L394.4 762.6 L395.9 764.3 L397.5 765.7 L399.3 766.9 L401.2 767.8 L403.1 768.4 L405.1 768.7 L406.9 768.6 L408.7 768.3 L410.4 767.6 L411.8 766.7 L413.1 765.5 L414.1 764 L414.8 762.4 L415.3 760.6 L415.4 758.6 L445.8 765.7 L446 767.7 L446.4 769.8 L447.2 771.8 L448.2 773.7 L449.4 775.5 L450.9 777.2 L452.5 778.6 L454.3 779.8 L456.2 780.7 L458.1 781.3 L460.1 781.6 L461.9 781.5 L463.7 781.2 L465.4 780.6 L466.8 779.6 L468.1 778.4 L469.1 776.9 L469.8 775.3 L470.3 773.5 L470.5 771.5 L500.8 778.6 L501 780.7 L501.4 782.7 L502.2 784.7 L503.2 786.6 L504.4 788.4 L505.9 790.1 L507.6 791.5 L509.3 792.7 L511.2 793.6 L513.1 794.2 L515.1 794.5 L516.9 794.5 L518.7 794.1 L520.4 793.5 L521.8 792.5 L523.1 791.3 L524.1 789.8 L524.9 788.2 L525.3 786.4 L525.5 784.4 L555.8 791.5 L556 793.6 L556.4 795.6 L557.2 797.6 L558.2 799.5 L559.4 801.3 L560.9 803 L562.6 804.4 L564.3 805.6 L566.2 806.5 L568.1 807.1 L570.1 807.4 L572 807.4 L573.7 807 L575.4 806.4 L576.9 805.4 L578.1 804.2 L579.1 802.8 L579.9 801.1 L580.3 799.3 L580.5 797.3 L610.8 804.5 L611 806.5 L611.4 808.5 L612.2 810.5 L613.2 812.4 L614.4 814.2 L615.9 815.9 L617.6 817.3 L619.3 818.5 L621.2 819.4 L623.2 820 L625.1 820.3 L627 820.3 L628.7 819.9 L630.4 819.3 L631.9 818.3 L633.1 817.1 L634.1 815.7 L634.9 814 L635.3 812.2 L635.5 810.2 L653.1 814.4 L653.1 847.4 L318 768.8Z" fill="#fff" stroke="none"/>
<path d="M318 735.8 L335.8 739.9 L336 741.9 L336.4 744 L337.2 746 L338.2 747.9 L339.4 749.7 L340.9 751.3 L342.5 752.8 L344.3 753.9 L346.2 754.9 L348.1 755.5 L350.1 755.8 L351.9 755.7 L353.7 755.4 L355.4 754.7 L356.8 753.8 L358.1 752.6 L359.1 751.1 L359.8 749.5 L360.3 747.6 L360.4 745.7 L390.8 752.8 L391 754.8 L391.4 756.9 L392.2 758.9 L393.2 760.8 L394.4 762.6 L395.9 764.3 L397.5 765.7 L399.3 766.9 L401.2 767.8 L403.1 768.4 L405.1 768.7 L406.9 768.6 L408.7 768.3 L410.4 767.6 L411.8 766.7 L413.1 765.5 L414.1 764 L414.8 762.4 L415.3 760.6 L415.4 758.6 L445.8 765.7 L446 767.7 L446.4 769.8 L447.2 771.8 L448.2 773.7 L449.4 775.5 L450.9 777.2 L452.5 778.6 L454.3 779.8 L456.2 780.7 L458.1 781.3 L460.1 781.6 L461.9 781.5 L463.7 781.2 L465.4 780.6 L466.8 779.6 L468.1 778.4 L469.1 776.9 L469.8 775.3 L470.3 773.5 L470.5 771.5 L500.8 778.6 L501 780.7 L501.4 782.7 L502.2 784.7 L503.2 786.6 L504.4 788.4 L505.9 790.1 L507.6 791.5 L509.3 792.7 L511.2 793.6 L513.1 794.2 L515.1 794.5 L516.9 794.5 L518.7 794.1 L520.4 793.5 L521.8 792.5 L523.1 791.3 L524.1 789.8 L524.9 788.2 L525.3 786.4 L525.5 784.4 L555.8 791.5 L556 793.6 L556.4 795.6 L557.2 797.6 L558.2 799.5 L559.4 801.3 L560.9 803 L562.6 804.4 L564.3 805.6 L566.2 806.5 L568.1 807.1 L570.1 807.4 L572 807.4 L573.7 807 L575.4 806.4 L576.9 805.4 L578.1 804.2 L579.1 802.8 L579.9 801.1 L580.3 799.3 L580.5 797.3 L610.8 804.5 L611 806.5 L611.4 808.5 L612.2 810.5 L613.2 812.4 L614.4 814.2 L615.9 815.9 L617.6 817.3 L619.3 818.5 L621.2 819.4 L623.2 820 L625.1 820.3 L627 820.3 L628.7 819.9 L630.4 819.3 L631.9 818.3 L633.1 817.1 L634.1 815.7 L634.9 814 L635.3 812.2 L635.5 810.2 L653.1 814.4" fill="none" stroke="#1a1a1a" stroke-width="2.2" stroke-linejoin="round" stroke-linecap="round" />
<path d="M653.1 814.4 L766.7 773.5 L785.4 774.1 L785.4 813.9 L654.6 858.5 L646.2 856.5Z" fill="#fff" stroke="none"/>
<path d="M301.3 735.8 L328.9 742.3 L329.1 744.3 L329.5 746.3 L330.2 748.3 L331.3 750.3 L332.5 752.1 L334 753.7 L335.6 755.1 L337.4 756.3 L339.3 757.2 L341.2 757.8 L343.1 758.1 L345 758.1 L346.8 757.7 L348.5 757.1 L349.9 756.2 L351.2 754.9 L352.2 753.5 L352.9 751.8 L353.4 750 L353.5 748.1 L383.9 755.2 L384.1 757.2 L384.5 759.2 L385.2 761.2 L386.3 763.2 L387.5 765 L389 766.6 L390.6 768 L392.4 769.2 L394.3 770.1 L396.2 770.7 L398.1 771 L400 771 L401.8 770.7 L403.5 770 L404.9 769.1 L406.2 767.8 L407.2 766.4 L407.9 764.7 L408.4 762.9 L408.5 761 L438.9 768.1 L439.1 770.1 L439.5 772.1 L440.3 774.1 L441.3 776.1 L442.5 777.9 L444 779.5 L445.6 780.9 L447.4 782.1 L449.3 783 L451.2 783.6 L453.2 783.9 L455 783.9 L456.8 783.6 L458.5 782.9 L459.9 782 L461.2 780.8 L462.2 779.3 L462.9 777.6 L463.4 775.8 L463.5 773.9 L493.9 781 L494.1 783 L494.5 785 L495.3 787.1 L496.3 789 L497.5 790.8 L499 792.4 L500.6 793.8 L502.4 795 L504.3 795.9 L506.2 796.5 L508.2 796.8 L510 796.8 L511.8 796.5 L513.5 795.8 L514.9 794.9 L516.2 793.7 L517.2 792.2 L517.9 790.5 L518.4 788.7 L518.5 786.8 L548.9 793.9 L549.1 795.9 L549.5 798 L550.3 800 L551.3 801.9 L552.5 803.7 L554 805.3 L555.6 806.8 L557.4 807.9 L559.3 808.8 L561.2 809.4 L563.2 809.7 L565 809.7 L566.8 809.4 L568.5 808.7 L569.9 807.8 L571.2 806.6 L572.2 805.1 L573 803.5 L573.4 801.6 L573.6 799.7 L603.9 806.8 L604.1 808.8 L604.5 810.9 L605.3 812.9 L606.3 814.8 L607.5 816.6 L609 818.2 L610.7 819.7 L612.4 820.8 L614.3 821.7 L616.2 822.4 L618.2 822.6 L620 822.6 L621.8 822.3 L623.5 821.6 L625 820.7 L626.2 819.5 L627.2 818 L628 816.4 L628.4 814.5 L628.6 812.6 L654.6 818.7 L654.6 858.5 L301.3 775.6Z" fill="#fff" stroke="none"/>
<path d="M654.6 818.7 L654.6 858.5 L301.3 775.6 L301.3 735.8 L328.9 742.3 L329.1 744.3 L329.5 746.3 L330.2 748.3 L331.3 750.3 L332.5 752.1 L334 753.7 L335.6 755.1 L337.4 756.3 L339.3 757.2 L341.2 757.8 L343.1 758.1 L345 758.1 L346.8 757.7 L348.5 757.1 L349.9 756.2 L351.2 754.9 L352.2 753.5 L352.9 751.8 L353.4 750 L353.5 748.1 L383.9 755.2 L384.1 757.2 L384.5 759.2 L385.2 761.2 L386.3 763.2 L387.5 765 L389 766.6 L390.6 768 L392.4 769.2 L394.3 770.1 L396.2 770.7 L398.1 771 L400 771 L401.8 770.7 L403.5 770 L404.9 769.1 L406.2 767.8 L407.2 766.4 L407.9 764.7 L408.4 762.9 L408.5 761 L438.9 768.1 L439.1 770.1 L439.5 772.1 L440.3 774.1 L441.3 776.1 L442.5 777.9 L444 779.5 L445.6 780.9 L447.4 782.1 L449.3 783 L451.2 783.6 L453.2 783.9 L455 783.9 L456.8 783.6 L458.5 782.9 L459.9 782 L461.2 780.8 L462.2 779.3 L462.9 777.6 L463.4 775.8 L463.5 773.9 L493.9 781 L494.1 783 L494.5 785 L495.3 787.1 L496.3 789 L497.5 790.8 L499 792.4 L500.6 793.8 L502.4 795 L504.3 795.9 L506.2 796.5 L508.2 796.8 L510 796.8 L511.8 796.5 L513.5 795.8 L514.9 794.9 L516.2 793.7 L517.2 792.2 L517.9 790.5 L518.4 788.7 L518.5 786.8 L548.9 793.9 L549.1 795.9 L549.5 798 L550.3 800 L551.3 801.9 L552.5 803.7 L554 805.3 L555.6 806.8 L557.4 807.9 L559.3 808.8 L561.2 809.4 L563.2 809.7 L565 809.7 L566.8 809.4 L568.5 808.7 L569.9 807.8 L571.2 806.6 L572.2 805.1 L573 803.5 L573.4 801.6 L573.6 799.7 L603.9 806.8 L604.1 808.8 L604.5 810.9 L605.3 812.9 L606.3 814.8 L607.5 816.6 L609 818.2 L610.7 819.7 L612.4 820.8 L614.3 821.7 L616.2 822.4 L618.2 822.6 L620 822.6 L621.8 822.3 L623.5 821.6 L625 820.7 L626.2 819.5 L627.2 818 L628 816.4 L628.4 814.5 L628.6 812.6 L654.6 818.7" fill="none" stroke="#1a1a1a" stroke-width="2.2" stroke-linejoin="round" stroke-linecap="round" />
<path d="M301.3 735.8 L328.9 742.3 L335.8 739.9 L318 735.8Z" fill="#fff" stroke="none"/>
<path d="M328.9 742.3 L335.8 739.9" fill="none" stroke="#1a1a1a" stroke-width="1.9" stroke-linejoin="round" stroke-linecap="round" />
<path d="M318 735.8 L335.8 739.9" fill="none" stroke="#1a1a1a" stroke-width="2.2" stroke-linejoin="round" stroke-linecap="round" />
<path d="M301.3 735.8 L328.9 742.3" fill="none" stroke="#1a1a1a" stroke-width="2.2" stroke-linejoin="round" stroke-linecap="round" />
<path d="M353.5 748.1 L383.9 755.2 L390.8 752.8 L360.4 745.7Z" fill="#fff" stroke="none"/>
<path d="M353.5 748.1 L360.4 745.7" fill="none" stroke="#1a1a1a" stroke-width="1.9" stroke-linejoin="round" stroke-linecap="round" />
<path d="M383.9 755.2 L390.8 752.8" fill="none" stroke="#1a1a1a" stroke-width="1.9" stroke-linejoin="round" stroke-linecap="round" />
<path d="M360.4 745.7 L390.8 752.8" fill="none" stroke="#1a1a1a" stroke-width="2.2" stroke-linejoin="round" stroke-linecap="round" />
<path d="M353.5 748.1 L383.9 755.2" fill="none" stroke="#1a1a1a" stroke-width="2.2" stroke-linejoin="round" stroke-linecap="round" />
<path d="M408.5 761 L438.9 768.1 L445.8 765.7 L415.4 758.6Z" fill="#fff" stroke="none"/>
<path d="M408.5 761 L415.4 758.6" fill="none" stroke="#1a1a1a" stroke-width="1.9" stroke-linejoin="round" stroke-linecap="round" />
<path d="M438.9 768.1 L445.8 765.7" fill="none" stroke="#1a1a1a" stroke-width="1.9" stroke-linejoin="round" stroke-linecap="round" />
<path d="M415.4 758.6 L445.8 765.7" fill="none" stroke="#1a1a1a" stroke-width="2.2" stroke-linejoin="round" stroke-linecap="round" />
<path d="M408.5 761 L438.9 768.1" fill="none" stroke="#1a1a1a" stroke-width="2.2" stroke-linejoin="round" stroke-linecap="round" />
<path d="M463.5 773.9 L493.9 781 L500.8 778.6 L470.5 771.5Z" fill="#fff" stroke="none"/>
<path d="M463.5 773.9 L470.5 771.5" fill="none" stroke="#1a1a1a" stroke-width="1.9" stroke-linejoin="round" stroke-linecap="round" />
<path d="M493.9 781 L500.8 778.6" fill="none" stroke="#1a1a1a" stroke-width="1.9" stroke-linejoin="round" stroke-linecap="round" />
<path d="M470.5 771.5 L500.8 778.6" fill="none" stroke="#1a1a1a" stroke-width="2.2" stroke-linejoin="round" stroke-linecap="round" />
<path d="M463.5 773.9 L493.9 781" fill="none" stroke="#1a1a1a" stroke-width="2.2" stroke-linejoin="round" stroke-linecap="round" />
<path d="M518.5 786.8 L548.9 793.9 L555.8 791.5 L525.5 784.4Z" fill="#fff" stroke="none"/>
<path d="M518.5 786.8 L525.5 784.4" fill="none" stroke="#1a1a1a" stroke-width="1.9" stroke-linejoin="round" stroke-linecap="round" />
<path d="M548.9 793.9 L555.8 791.5" fill="none" stroke="#1a1a1a" stroke-width="1.9" stroke-linejoin="round" stroke-linecap="round" />
<path d="M525.5 784.4 L555.8 791.5" fill="none" stroke="#1a1a1a" stroke-width="2.2" stroke-linejoin="round" stroke-linecap="round" />
<path d="M518.5 786.8 L548.9 793.9" fill="none" stroke="#1a1a1a" stroke-width="2.2" stroke-linejoin="round" stroke-linecap="round" />
<path d="M573.6 799.7 L603.9 806.8 L610.8 804.5 L580.5 797.3Z" fill="#fff" stroke="none"/>
<path d="M573.6 799.7 L580.5 797.3" fill="none" stroke="#1a1a1a" stroke-width="1.9" stroke-linejoin="round" stroke-linecap="round" />
<path d="M603.9 806.8 L610.8 804.5" fill="none" stroke="#1a1a1a" stroke-width="1.9" stroke-linejoin="round" stroke-linecap="round" />
<path d="M580.5 797.3 L610.8 804.5" fill="none" stroke="#1a1a1a" stroke-width="2.2" stroke-linejoin="round" stroke-linecap="round" />
<path d="M573.6 799.7 L603.9 806.8" fill="none" stroke="#1a1a1a" stroke-width="2.2" stroke-linejoin="round" stroke-linecap="round" />
<path d="M628.6 812.6 L654.6 818.7 L653.1 814.4 L635.5 810.2Z" fill="#fff" stroke="none"/>
<path d="M628.6 812.6 L635.5 810.2" fill="none" stroke="#1a1a1a" stroke-width="1.9" stroke-linejoin="round" stroke-linecap="round" />
<path d="M635.5 810.2 L653.1 814.4" fill="none" stroke="#1a1a1a" stroke-width="2.2" stroke-linejoin="round" stroke-linecap="round" />
<path d="M628.6 812.6 L654.6 818.7" fill="none" stroke="#1a1a1a" stroke-width="2.2" stroke-linejoin="round" stroke-linecap="round" />
<path d="M301.3 735.8 L432.1 691.2 L785.4 774.1" fill="none" stroke="#1a1a1a" stroke-width="2.2" stroke-linejoin="round" stroke-linecap="round" />
<path d="M318 735.8 L435.3 695.8 L766.7 773.5 L653.1 814.4" fill="none" stroke="#1a1a1a" stroke-width="2.2" stroke-linejoin="round" stroke-linecap="round" />
<path d="M654.6 818.7 L785.4 774.1 L785.4 813.9 L654.6 858.5Z" fill="#fff" stroke="#1a1a1a" stroke-width="2.2" stroke-linejoin="round"/>
<path d="M695.3 833.5 Q695.3 830.9 697.8 830.1 L745.5 813.8 Q747.9 813 747.9 815.6 L747.9 827.1 Q747.9 829.7 745.5 830.5 L697.8 846.8 Q695.3 847.6 695.3 845 Z" fill="#fff" stroke="#1a1a1a" stroke-width="2.1" stroke-linejoin="round"/>
<ellipse cx="705" cy="835.9" rx="2.7" ry="3.3" transform="rotate(-19 705 835.9)" fill="#333" stroke="#0a0a0a" stroke-width="1.5"/>
<ellipse cx="740.1" cy="824" rx="2.7" ry="3.3" transform="rotate(-19 740.1 824)" fill="#333" stroke="#0a0a0a" stroke-width="1.5"/>
<path d="M301.3 856.1 L432.1 811.5 L785.4 894.4 L785.4 934.2 L654.6 978.8 L301.3 895.9Z" fill="#fff" stroke="none"/>
<path d="M318 889.1 L435.3 849.1 L766.7 926.8" fill="none" stroke="#1a1a1a" stroke-width="2.2" stroke-linejoin="round" stroke-linecap="round" />
<path d="M435.3 816.1 L435.3 849.1" fill="none" stroke="#1a1a1a" stroke-width="2.2" stroke-linejoin="round" stroke-linecap="round" />
<path d="M396.4 829.3 L401.3 830.5 L401.6 834.9 L402.5 839.3 L404 843.6 L406.1 847.8 L408.7 851.7 L411.7 855.2 L415 858.3 L418.7 860.8 L422.5 862.7 L426.5 864 L430.4 864.6 L434.3 864.5 L437.9 863.7 L441.3 862.2 L444.3 860.1 L446.9 857.4 L449 854.2 L450.5 850.5 L451.4 846.6 L451.7 842.3 L456.3 843.4 L456.6 847.8 L457.5 852.2 L459 856.6 L461.1 860.7 L463.7 864.6 L466.7 868.1 L470 871.2 L473.7 873.7 L477.6 875.6 L481.5 876.9 L485.4 877.5 L489.3 877.4 L492.9 876.6 L496.3 875.1 L499.3 873 L501.9 870.3 L504 867.1 L505.5 863.5 L506.4 859.5 L506.7 855.2 L511.3 856.3 L511.6 860.7 L512.5 865.1 L514 869.5 L516.1 873.6 L518.7 877.5 L521.7 881.1 L525.1 884.1 L528.7 886.6 L532.6 888.5 L536.5 889.8 L540.4 890.4 L544.3 890.3 L547.9 889.5 L551.3 888 L554.3 885.9 L556.9 883.2 L559 880 L560.5 876.4 L561.4 872.4 L561.7 868.1 L566.3 869.2 L566.6 873.6 L567.5 878 L569 882.4 L571.1 886.5 L573.7 890.4 L576.7 894 L580.1 897 L583.7 899.5 L587.6 901.4 L591.5 902.7 L595.5 903.3 L599.3 903.2 L603 902.4 L606.3 900.9 L609.3 898.8 L611.9 896.1 L614 892.9 L615.5 889.3 L616.4 885.3 L616.7 881 L621.3 882.1 L621.6 886.5 L622.5 890.9 L624 895.3 L626.1 899.5 L628.7 903.3 L631.7 906.9 L635.1 909.9 L638.7 912.4 L642.6 914.4 L646.5 915.6 L650.5 916.2 L654.3 916.1 L658 915.3 L661.3 913.8 L664.3 911.7 L666.9 909 L669 905.8 L670.5 902.2 L671.4 898.2 L671.7 893.9 L676.3 895 L676.6 899.4 L677.5 903.8 L679.1 908.2 L681.1 912.4 L683.7 916.3 L686.7 919.8 L690.1 922.8 L693.7 925.3 L697.6 927.3 L701.5 928.5 L705.5 929.1 L709.3 929 L713 928.2 L716.3 926.7 L719.3 924.6 L721.9 921.9 L724 918.7 L725.5 915.1 L726.4 911.1 L726.7 906.8 L729.3 907.4 L729.3 940.4 L396.4 862.3Z" fill="#fff" stroke="none"/>
<path d="M401.3 830.5 L401.6 834.9 L402.5 839.3 L404 843.6 L406.1 847.8 L408.7 851.7 L411.7 855.2 L415 858.3 L418.7 860.8 L422.5 862.7 L426.5 864 L430.4 864.6 L434.3 864.5 L437.9 863.7 L441.3 862.2 L444.3 860.1 L446.9 857.4 L449 854.2 L450.5 850.5 L451.4 846.6 L451.7 842.3 L456.3 843.4 L456.6 847.8 L457.5 852.2 L459 856.6 L461.1 860.7 L463.7 864.6 L466.7 868.1 L470 871.2 L473.7 873.7 L477.6 875.6 L481.5 876.9 L485.4 877.5 L489.3 877.4 L492.9 876.6 L496.3 875.1 L499.3 873 L501.9 870.3 L504 867.1 L505.5 863.5 L506.4 859.5 L506.7 855.2 L511.3 856.3 L511.6 860.7 L512.5 865.1 L514 869.5 L516.1 873.6 L518.7 877.5 L521.7 881.1 L525.1 884.1 L528.7 886.6 L532.6 888.5 L536.5 889.8 L540.4 890.4 L544.3 890.3 L547.9 889.5 L551.3 888 L554.3 885.9 L556.9 883.2 L559 880 L560.5 876.4 L561.4 872.4 L561.7 868.1 L566.3 869.2 L566.6 873.6 L567.5 878 L569 882.4 L571.1 886.5 L573.7 890.4 L576.7 894 L580.1 897 L583.7 899.5 L587.6 901.4 L591.5 902.7 L595.5 903.3 L599.3 903.2 L603 902.4 L606.3 900.9 L609.3 898.8 L611.9 896.1 L614 892.9 L615.5 889.3 L616.4 885.3 L616.7 881 L621.3 882.1 L621.6 886.5 L622.5 890.9 L624 895.3 L626.1 899.5 L628.7 903.3 L631.7 906.9 L635.1 909.9 L638.7 912.4 L642.6 914.4 L646.5 915.6 L650.5 916.2 L654.3 916.1 L658 915.3 L661.3 913.8 L664.3 911.7 L666.9 909 L669 905.8 L670.5 902.2 L671.4 898.2 L671.7 893.9 L676.3 895 L676.6 899.4 L677.5 903.8 L679.1 908.2 L681.1 912.4 L683.7 916.3 L686.7 919.8 L690.1 922.8 L693.7 925.3 L697.6 927.3 L701.5 928.5 L705.5 929.1 L709.3 929 L713 928.2 L716.3 926.7 L719.3 924.6 L721.9 921.9 L724 918.7 L725.5 915.1 L726.4 911.1 L726.7 906.8" fill="none" stroke="#1a1a1a" stroke-width="2.2" stroke-linejoin="round" stroke-linecap="round" />
<path d="M394.2 832.9 L394.3 835.1 L394.5 837.3 L394.9 839.5 L395.4 841.7 L396.1 843.9 L396.9 846.1 L397.9 848.2 L399 850.2 L400.2 852.2 L401.6 854.1 L403 856 L404.6 857.7 L406.2 859.3 L407.9 860.7 L409.7 862 L411.6 863.2 L413.5 864.3 L415.4 865.1 L417.4 865.9 L419.4 866.4 L421.4 866.8 L423.3 867 L425.3 867 L427.2 866.9 L429 866.6 L430.8 866.1 L437.9 863.7 L436.1 864.2 L434.3 864.5 L432.4 864.6 L430.4 864.6 L428.5 864.4 L426.5 864 L424.5 863.4 L422.5 862.7 L420.6 861.8 L418.7 860.8 L416.8 859.6 L415 858.3 L413.3 856.8 L411.7 855.2 L410.1 853.5 L408.7 851.7 L407.3 849.8 L406.1 847.8 L405 845.8 L404 843.6 L403.2 841.5 L402.5 839.3 L402 837.1 L401.6 834.9 L401.4 832.7 L401.3 830.5Z" fill="#fff" stroke="none"/>
<path d="M401.3 830.5 L401.4 832.7 L401.6 834.9 L402 837.1 L402.5 839.3 L403.2 841.5 L404 843.6 L405 845.8 L406.1 847.8 L407.3 849.8 L408.7 851.7 L410.1 853.5 L411.7 855.2 L413.3 856.8 L415 858.3 L416.8 859.6 L418.7 860.8 L420.6 861.8 L422.5 862.7 L424.5 863.4 L426.5 864 L428.5 864.4 L430.4 864.6 L432.4 864.6 L434.3 864.5 L436.1 864.2 L437.9 863.7" fill="none" stroke="#1a1a1a" stroke-width="2.2" stroke-linejoin="round" stroke-linecap="round" />
<path d="M449.2 845.8 L449.3 848 L449.5 850.2 L449.9 852.4 L450.4 854.6 L451.1 856.8 L451.9 859 L452.9 861.1 L454 863.2 L455.2 865.1 L456.6 867 L458 868.9 L459.6 870.6 L461.2 872.2 L463 873.6 L464.7 875 L466.6 876.1 L468.5 877.2 L470.5 878.1 L472.4 878.8 L474.4 879.3 L476.4 879.7 L478.3 879.9 L480.3 879.9 L482.2 879.8 L484 879.5 L485.8 879 L492.9 876.6 L491.1 877.1 L489.3 877.4 L487.4 877.5 L485.4 877.5 L483.5 877.3 L481.5 876.9 L479.5 876.3 L477.6 875.6 L475.6 874.8 L473.7 873.7 L471.8 872.5 L470 871.2 L468.3 869.7 L466.7 868.1 L465.1 866.4 L463.7 864.6 L462.3 862.7 L461.1 860.7 L460 858.7 L459 856.6 L458.2 854.4 L457.5 852.2 L457 850 L456.6 847.8 L456.4 845.6 L456.3 843.4Z" fill="#fff" stroke="none"/>
<path d="M456.3 843.4 L456.4 845.6 L456.6 847.8 L457 850 L457.5 852.2 L458.2 854.4 L459 856.6 L460 858.7 L461.1 860.7 L462.3 862.7 L463.7 864.6 L465.1 866.4 L466.7 868.1 L468.3 869.7 L470 871.2 L471.8 872.5 L473.7 873.7 L475.6 874.8 L477.6 875.6 L479.5 876.3 L481.5 876.9 L483.5 877.3 L485.4 877.5 L487.4 877.5 L489.3 877.4 L491.1 877.1 L492.9 876.6" fill="none" stroke="#1a1a1a" stroke-width="2.2" stroke-linejoin="round" stroke-linecap="round" />
<path d="M504.2 858.7 L504.3 860.9 L504.5 863.1 L504.9 865.3 L505.4 867.5 L506.1 869.7 L506.9 871.9 L507.9 874 L509 876.1 L510.2 878 L511.6 880 L513 881.8 L514.6 883.5 L516.2 885.1 L518 886.5 L519.8 887.9 L521.6 889 L523.5 890.1 L525.5 891 L527.4 891.7 L529.4 892.2 L531.4 892.6 L533.3 892.8 L535.3 892.8 L537.2 892.7 L539.1 892.4 L540.9 891.9 L547.9 889.5 L546.2 890 L544.3 890.3 L542.4 890.4 L540.4 890.4 L538.5 890.2 L536.5 889.8 L534.5 889.3 L532.6 888.5 L530.6 887.7 L528.7 886.6 L526.9 885.4 L525.1 884.1 L523.3 882.6 L521.7 881.1 L520.1 879.3 L518.7 877.5 L517.3 875.6 L516.1 873.6 L515 871.6 L514 869.5 L513.2 867.3 L512.5 865.1 L512 862.9 L511.6 860.7 L511.4 858.5 L511.3 856.3Z" fill="#fff" stroke="none"/>
<path d="M511.3 856.3 L511.4 858.5 L511.6 860.7 L512 862.9 L512.5 865.1 L513.2 867.3 L514 869.5 L515 871.6 L516.1 873.6 L517.3 875.6 L518.7 877.5 L520.1 879.3 L521.7 881.1 L523.3 882.6 L525.1 884.1 L526.9 885.4 L528.7 886.6 L530.6 887.7 L532.6 888.5 L534.5 889.3 L536.5 889.8 L538.5 890.2 L540.4 890.4 L542.4 890.4 L544.3 890.3 L546.2 890 L547.9 889.5" fill="none" stroke="#1a1a1a" stroke-width="2.2" stroke-linejoin="round" stroke-linecap="round" />
<path d="M559.2 871.6 L559.3 873.8 L559.5 876 L559.9 878.2 L560.4 880.4 L561.1 882.6 L561.9 884.8 L562.9 886.9 L564 889 L565.2 891 L566.6 892.9 L568 894.7 L569.6 896.4 L571.2 898 L573 899.4 L574.8 900.8 L576.6 902 L578.5 903 L580.5 903.9 L582.4 904.6 L584.4 905.1 L586.4 905.5 L588.4 905.7 L590.3 905.7 L592.2 905.6 L594.1 905.3 L595.9 904.8 L603 902.4 L601.2 902.9 L599.3 903.2 L597.4 903.3 L595.5 903.3 L593.5 903.1 L591.5 902.7 L589.5 902.2 L587.6 901.4 L585.6 900.6 L583.7 899.5 L581.9 898.3 L580.1 897 L578.3 895.6 L576.7 894 L575.1 892.3 L573.7 890.4 L572.3 888.5 L571.1 886.5 L570 884.5 L569 882.4 L568.2 880.2 L567.5 878 L567 875.8 L566.6 873.6 L566.4 871.4 L566.3 869.2Z" fill="#fff" stroke="none"/>
<path d="M566.3 869.2 L566.4 871.4 L566.6 873.6 L567 875.8 L567.5 878 L568.2 880.2 L569 882.4 L570 884.5 L571.1 886.5 L572.3 888.5 L573.7 890.4 L575.1 892.3 L576.7 894 L578.3 895.6 L580.1 897 L581.9 898.3 L583.7 899.5 L585.6 900.6 L587.6 901.4 L589.5 902.2 L591.5 902.7 L593.5 903.1 L595.5 903.3 L597.4 903.3 L599.3 903.2 L601.2 902.9 L603 902.4" fill="none" stroke="#1a1a1a" stroke-width="2.2" stroke-linejoin="round" stroke-linecap="round" />
<path d="M614.2 884.5 L614.3 886.7 L614.5 888.9 L614.9 891.1 L615.4 893.3 L616.1 895.5 L616.9 897.7 L617.9 899.8 L619 901.9 L620.2 903.9 L621.6 905.8 L623 907.6 L624.6 909.3 L626.2 910.9 L628 912.3 L629.8 913.7 L631.6 914.9 L633.5 915.9 L635.5 916.8 L637.4 917.5 L639.4 918 L641.4 918.4 L643.4 918.6 L645.3 918.7 L647.2 918.5 L649.1 918.2 L650.9 917.7 L658 915.3 L656.2 915.8 L654.3 916.1 L652.4 916.2 L650.5 916.2 L648.5 916 L646.5 915.6 L644.5 915.1 L642.6 914.4 L640.6 913.5 L638.7 912.4 L636.9 911.3 L635.1 909.9 L633.3 908.5 L631.7 906.9 L630.1 905.2 L628.7 903.3 L627.3 901.4 L626.1 899.5 L625 897.4 L624 895.3 L623.2 893.1 L622.5 890.9 L622 888.7 L621.6 886.5 L621.4 884.3 L621.3 882.1Z" fill="#fff" stroke="none"/>
<path d="M621.3 882.1 L621.4 884.3 L621.6 886.5 L622 888.7 L622.5 890.9 L623.2 893.1 L624 895.3 L625 897.4 L626.1 899.5 L627.3 901.4 L628.7 903.3 L630.1 905.2 L631.7 906.9 L633.3 908.5 L635.1 909.9 L636.9 911.3 L638.7 912.4 L640.6 913.5 L642.6 914.4 L644.5 915.1 L646.5 915.6 L648.5 916 L650.5 916.2 L652.4 916.2 L654.3 916.1 L656.2 915.8 L658 915.3" fill="none" stroke="#1a1a1a" stroke-width="2.2" stroke-linejoin="round" stroke-linecap="round" />
<path d="M669.2 897.4 L669.3 899.6 L669.5 901.8 L669.9 904 L670.4 906.2 L671.1 908.4 L672 910.6 L672.9 912.7 L674 914.8 L675.2 916.8 L676.6 918.7 L678 920.5 L679.6 922.2 L681.2 923.8 L683 925.2 L684.8 926.6 L686.6 927.8 L688.5 928.8 L690.5 929.7 L692.4 930.4 L694.4 930.9 L696.4 931.3 L698.4 931.5 L700.3 931.6 L702.2 931.4 L704.1 931.1 L705.9 930.6 L713 928.2 L711.2 928.7 L709.3 929 L707.4 929.1 L705.5 929.1 L703.5 928.9 L701.5 928.5 L699.5 928 L697.6 927.3 L695.6 926.4 L693.7 925.3 L691.9 924.2 L690.1 922.8 L688.3 921.4 L686.7 919.8 L685.1 918.1 L683.7 916.3 L682.3 914.3 L681.1 912.4 L680 910.3 L679.1 908.2 L678.2 906 L677.5 903.8 L677 901.6 L676.6 899.4 L676.4 897.2 L676.3 895Z" fill="#fff" stroke="none"/>
<path d="M676.3 895 L676.4 897.2 L676.6 899.4 L677 901.6 L677.5 903.8 L678.2 906 L679.1 908.2 L680 910.3 L681.1 912.4 L682.3 914.3 L683.7 916.3 L685.1 918.1 L686.7 919.8 L688.3 921.4 L690.1 922.8 L691.9 924.2 L693.7 925.3 L695.6 926.4 L697.6 927.3 L699.5 928 L701.5 928.5 L703.5 928.9 L705.5 929.1 L707.4 929.1 L709.3 929 L711.2 928.7 L713 928.2" fill="none" stroke="#1a1a1a" stroke-width="2.2" stroke-linejoin="round" stroke-linecap="round" />
<path d="M389.3 831.8 L394.2 832.9 L394.5 837.3 L395.4 841.7 L396.9 846.1 L399 850.2 L401.6 854.1 L404.6 857.7 L407.9 860.7 L411.6 863.2 L415.4 865.1 L419.4 866.4 L423.3 867 L427.2 866.9 L430.8 866.1 L434.2 864.6 L437.2 862.5 L439.8 859.8 L441.9 856.6 L443.4 853 L444.3 849 L444.6 844.7 L449.2 845.8 L449.5 850.2 L450.4 854.6 L451.9 859 L454 863.2 L456.6 867 L459.6 870.6 L463 873.6 L466.6 876.1 L470.5 878.1 L474.4 879.3 L478.3 879.9 L482.2 879.8 L485.8 879 L489.2 877.5 L492.2 875.4 L494.8 872.7 L496.9 869.5 L498.4 865.9 L499.3 861.9 L499.6 857.6 L504.2 858.7 L504.5 863.1 L505.4 867.5 L506.9 871.9 L509 876.1 L511.6 880 L514.6 883.5 L518 886.5 L521.6 889 L525.5 891 L529.4 892.2 L533.3 892.8 L537.2 892.7 L540.9 891.9 L544.2 890.4 L547.2 888.3 L549.8 885.6 L551.9 882.4 L553.4 878.8 L554.3 874.8 L554.6 870.5 L559.2 871.6 L559.5 876 L560.4 880.4 L561.9 884.8 L564 889 L566.6 892.9 L569.6 896.4 L573 899.4 L576.6 902 L580.5 903.9 L584.4 905.1 L588.4 905.7 L592.2 905.6 L595.9 904.8 L599.2 903.3 L602.2 901.2 L604.8 898.5 L606.9 895.3 L608.4 891.7 L609.3 887.7 L609.6 883.4 L614.2 884.5 L614.5 888.9 L615.4 893.3 L616.9 897.7 L619 901.9 L621.6 905.8 L624.6 909.3 L628 912.3 L631.6 914.9 L635.5 916.8 L639.4 918 L643.4 918.6 L647.2 918.5 L650.9 917.7 L654.2 916.2 L657.2 914.1 L659.8 911.4 L661.9 908.2 L663.4 904.6 L664.3 900.6 L664.6 896.4 L669.2 897.4 L669.5 901.8 L670.4 906.2 L672 910.6 L674 914.8 L676.6 918.7 L679.6 922.2 L683 925.2 L686.6 927.8 L690.5 929.7 L694.4 930.9 L698.4 931.5 L702.2 931.4 L705.9 930.6 L709.2 929.2 L712.2 927 L714.8 924.4 L716.9 921.1 L718.4 917.5 L719.3 913.5 L719.6 909.3 L722.2 909.9 L722.2 942.9 L389.3 864.8Z" fill="#fff" stroke="none"/>
<path d="M722.2 942.9 L389.3 864.8 L389.3 831.8 L394.2 832.9 L394.5 837.3 L395.4 841.7 L396.9 846.1 L399 850.2 L401.6 854.1 L404.6 857.7 L407.9 860.7 L411.6 863.2 L415.4 865.1 L419.4 866.4 L423.3 867 L427.2 866.9 L430.8 866.1 L434.2 864.6 L437.2 862.5 L439.8 859.8 L441.9 856.6 L443.4 853 L444.3 849 L444.6 844.7 L449.2 845.8 L449.5 850.2 L450.4 854.6 L451.9 859 L454 863.2 L456.6 867 L459.6 870.6 L463 873.6 L466.6 876.1 L470.5 878.1 L474.4 879.3 L478.3 879.9 L482.2 879.8 L485.8 879 L489.2 877.5 L492.2 875.4 L494.8 872.7 L496.9 869.5 L498.4 865.9 L499.3 861.9 L499.6 857.6 L504.2 858.7 L504.5 863.1 L505.4 867.5 L506.9 871.9 L509 876.1 L511.6 880 L514.6 883.5 L518 886.5 L521.6 889 L525.5 891 L529.4 892.2 L533.3 892.8 L537.2 892.7 L540.9 891.9 L544.2 890.4 L547.2 888.3 L549.8 885.6 L551.9 882.4 L553.4 878.8 L554.3 874.8 L554.6 870.5 L559.2 871.6 L559.5 876 L560.4 880.4 L561.9 884.8 L564 889 L566.6 892.9 L569.6 896.4 L573 899.4 L576.6 902 L580.5 903.9 L584.4 905.1 L588.4 905.7 L592.2 905.6 L595.9 904.8 L599.2 903.3 L602.2 901.2 L604.8 898.5 L606.9 895.3 L608.4 891.7 L609.3 887.7 L609.6 883.4 L614.2 884.5 L614.5 888.9 L615.4 893.3 L616.9 897.7 L619 901.9 L621.6 905.8 L624.6 909.3 L628 912.3 L631.6 914.9 L635.5 916.8 L639.4 918 L643.4 918.6 L647.2 918.5 L650.9 917.7 L654.2 916.2 L657.2 914.1 L659.8 911.4 L661.9 908.2 L663.4 904.6 L664.3 900.6 L664.6 896.4 L669.2 897.4 L669.5 901.8 L670.4 906.2 L672 910.6 L674 914.8 L676.6 918.7 L679.6 922.2 L683 925.2 L686.6 927.8 L690.5 929.7 L694.4 930.9 L698.4 931.5 L702.2 931.4 L705.9 930.6 L709.2 929.2 L712.2 927 L714.8 924.4 L716.9 921.1 L718.4 917.5 L719.3 913.5 L719.6 909.3 L722.2 909.9" fill="none" stroke="#1a1a1a" stroke-width="2.2" stroke-linejoin="round" stroke-linecap="round" />
<path d="M389.3 831.8 L394.2 832.9 L401.3 830.5 L396.4 829.3Z" fill="#fff" stroke="none"/>
<path d="M394.2 832.9 L401.3 830.5" fill="none" stroke="#1a1a1a" stroke-width="1.9" stroke-linejoin="round" stroke-linecap="round" />
<path d="M396.4 829.3 L401.3 830.5" fill="none" stroke="#1a1a1a" stroke-width="2.2" stroke-linejoin="round" stroke-linecap="round" />
<path d="M389.3 831.8 L394.2 832.9" fill="none" stroke="#1a1a1a" stroke-width="2.2" stroke-linejoin="round" stroke-linecap="round" />
<path d="M444.6 844.7 L449.2 845.8 L456.3 843.4 L451.7 842.3Z" fill="#fff" stroke="none"/>
<path d="M444.6 844.7 L451.7 842.3" fill="none" stroke="#1a1a1a" stroke-width="1.9" stroke-linejoin="round" stroke-linecap="round" />
<path d="M449.2 845.8 L456.3 843.4" fill="none" stroke="#1a1a1a" stroke-width="1.9" stroke-linejoin="round" stroke-linecap="round" />
<path d="M451.7 842.3 L456.3 843.4" fill="none" stroke="#1a1a1a" stroke-width="2.2" stroke-linejoin="round" stroke-linecap="round" />
<path d="M444.6 844.7 L449.2 845.8" fill="none" stroke="#1a1a1a" stroke-width="2.2" stroke-linejoin="round" stroke-linecap="round" />
<path d="M499.6 857.6 L504.2 858.7 L511.3 856.3 L506.7 855.2Z" fill="#fff" stroke="none"/>
<path d="M499.6 857.6 L506.7 855.2" fill="none" stroke="#1a1a1a" stroke-width="1.9" stroke-linejoin="round" stroke-linecap="round" />
<path d="M504.2 858.7 L511.3 856.3" fill="none" stroke="#1a1a1a" stroke-width="1.9" stroke-linejoin="round" stroke-linecap="round" />
<path d="M506.7 855.2 L511.3 856.3" fill="none" stroke="#1a1a1a" stroke-width="2.2" stroke-linejoin="round" stroke-linecap="round" />
<path d="M499.6 857.6 L504.2 858.7" fill="none" stroke="#1a1a1a" stroke-width="2.2" stroke-linejoin="round" stroke-linecap="round" />
<path d="M554.6 870.5 L559.2 871.6 L566.3 869.2 L561.7 868.1Z" fill="#fff" stroke="none"/>
<path d="M554.6 870.5 L561.7 868.1" fill="none" stroke="#1a1a1a" stroke-width="1.9" stroke-linejoin="round" stroke-linecap="round" />
<path d="M559.2 871.6 L566.3 869.2" fill="none" stroke="#1a1a1a" stroke-width="1.9" stroke-linejoin="round" stroke-linecap="round" />
<path d="M561.7 868.1 L566.3 869.2" fill="none" stroke="#1a1a1a" stroke-width="2.2" stroke-linejoin="round" stroke-linecap="round" />
<path d="M554.6 870.5 L559.2 871.6" fill="none" stroke="#1a1a1a" stroke-width="2.2" stroke-linejoin="round" stroke-linecap="round" />
<path d="M609.6 883.4 L614.2 884.5 L621.3 882.1 L616.7 881Z" fill="#fff" stroke="none"/>
<path d="M609.6 883.4 L616.7 881" fill="none" stroke="#1a1a1a" stroke-width="1.9" stroke-linejoin="round" stroke-linecap="round" />
<path d="M614.2 884.5 L621.3 882.1" fill="none" stroke="#1a1a1a" stroke-width="1.9" stroke-linejoin="round" stroke-linecap="round" />
<path d="M616.7 881 L621.3 882.1" fill="none" stroke="#1a1a1a" stroke-width="2.2" stroke-linejoin="round" stroke-linecap="round" />
<path d="M609.6 883.4 L614.2 884.5" fill="none" stroke="#1a1a1a" stroke-width="2.2" stroke-linejoin="round" stroke-linecap="round" />
<path d="M664.6 896.4 L669.2 897.4 L676.3 895 L671.7 893.9Z" fill="#fff" stroke="none"/>
<path d="M664.6 896.4 L671.7 893.9" fill="none" stroke="#1a1a1a" stroke-width="1.9" stroke-linejoin="round" stroke-linecap="round" />
<path d="M669.2 897.4 L676.3 895" fill="none" stroke="#1a1a1a" stroke-width="1.9" stroke-linejoin="round" stroke-linecap="round" />
<path d="M671.7 893.9 L676.3 895" fill="none" stroke="#1a1a1a" stroke-width="2.2" stroke-linejoin="round" stroke-linecap="round" />
<path d="M664.6 896.4 L669.2 897.4" fill="none" stroke="#1a1a1a" stroke-width="2.2" stroke-linejoin="round" stroke-linecap="round" />
<path d="M719.6 909.3 L722.2 909.9 L729.3 907.4 L726.7 906.8Z" fill="#fff" stroke="none"/>
<path d="M719.6 909.3 L726.7 906.8" fill="none" stroke="#1a1a1a" stroke-width="1.9" stroke-linejoin="round" stroke-linecap="round" />
<path d="M726.7 906.8 L729.3 907.4" fill="none" stroke="#1a1a1a" stroke-width="2.2" stroke-linejoin="round" stroke-linecap="round" />
<path d="M719.6 909.3 L722.2 909.9" fill="none" stroke="#1a1a1a" stroke-width="2.2" stroke-linejoin="round" stroke-linecap="round" />
<path d="M318 856.1 L335.8 860.2 L336 862.2 L336.4 864.3 L337.2 866.3 L338.2 868.2 L339.4 870 L340.9 871.6 L342.5 873.1 L344.3 874.2 L346.2 875.2 L348.1 875.8 L350.1 876.1 L351.9 876 L353.7 875.7 L355.4 875 L356.8 874.1 L358.1 872.9 L359.1 871.4 L359.8 869.8 L360.3 867.9 L360.4 866 L390.8 873.1 L391 875.1 L391.4 877.2 L392.2 879.2 L393.2 881.1 L394.4 882.9 L395.9 884.6 L397.5 886 L399.3 887.2 L401.2 888.1 L403.1 888.7 L405.1 889 L406.9 888.9 L408.7 888.6 L410.4 887.9 L411.8 887 L413.1 885.8 L414.1 884.3 L414.8 882.7 L415.3 880.9 L415.4 878.9 L445.8 886 L446 888 L446.4 890.1 L447.2 892.1 L448.2 894 L449.4 895.8 L450.9 897.5 L452.5 898.9 L454.3 900.1 L456.2 901 L458.1 901.6 L460.1 901.9 L461.9 901.8 L463.7 901.5 L465.4 900.9 L466.8 899.9 L468.1 898.7 L469.1 897.2 L469.8 895.6 L470.3 893.8 L470.5 891.8 L500.8 898.9 L501 901 L501.4 903 L502.2 905 L503.2 906.9 L504.4 908.7 L505.9 910.4 L507.6 911.8 L509.3 913 L511.2 913.9 L513.1 914.5 L515.1 914.8 L516.9 914.8 L518.7 914.4 L520.4 913.8 L521.8 912.8 L523.1 911.6 L524.1 910.1 L524.9 908.5 L525.3 906.7 L525.5 904.7 L555.8 911.8 L556 913.9 L556.4 915.9 L557.2 917.9 L558.2 919.8 L559.4 921.6 L560.9 923.3 L562.6 924.7 L564.3 925.9 L566.2 926.8 L568.1 927.4 L570.1 927.7 L572 927.7 L573.7 927.3 L575.4 926.7 L576.9 925.7 L578.1 924.5 L579.1 923.1 L579.9 921.4 L580.3 919.6 L580.5 917.6 L610.8 924.8 L611 926.8 L611.4 928.8 L612.2 930.8 L613.2 932.7 L614.4 934.5 L615.9 936.2 L617.6 937.6 L619.3 938.8 L621.2 939.7 L623.2 940.3 L625.1 940.6 L627 940.6 L628.7 940.2 L630.4 939.6 L631.9 938.6 L633.1 937.4 L634.1 936 L634.9 934.3 L635.3 932.5 L635.5 930.5 L653.1 934.7 L653.1 967.7 L318 889.1Z" fill="#fff" stroke="none"/>
<path d="M318 856.1 L335.8 860.2 L336 862.2 L336.4 864.3 L337.2 866.3 L338.2 868.2 L339.4 870 L340.9 871.6 L342.5 873.1 L344.3 874.2 L346.2 875.2 L348.1 875.8 L350.1 876.1 L351.9 876 L353.7 875.7 L355.4 875 L356.8 874.1 L358.1 872.9 L359.1 871.4 L359.8 869.8 L360.3 867.9 L360.4 866 L390.8 873.1 L391 875.1 L391.4 877.2 L392.2 879.2 L393.2 881.1 L394.4 882.9 L395.9 884.6 L397.5 886 L399.3 887.2 L401.2 888.1 L403.1 888.7 L405.1 889 L406.9 888.9 L408.7 888.6 L410.4 887.9 L411.8 887 L413.1 885.8 L414.1 884.3 L414.8 882.7 L415.3 880.9 L415.4 878.9 L445.8 886 L446 888 L446.4 890.1 L447.2 892.1 L448.2 894 L449.4 895.8 L450.9 897.5 L452.5 898.9 L454.3 900.1 L456.2 901 L458.1 901.6 L460.1 901.9 L461.9 901.8 L463.7 901.5 L465.4 900.9 L466.8 899.9 L468.1 898.7 L469.1 897.2 L469.8 895.6 L470.3 893.8 L470.5 891.8 L500.8 898.9 L501 901 L501.4 903 L502.2 905 L503.2 906.9 L504.4 908.7 L505.9 910.4 L507.6 911.8 L509.3 913 L511.2 913.9 L513.1 914.5 L515.1 914.8 L516.9 914.8 L518.7 914.4 L520.4 913.8 L521.8 912.8 L523.1 911.6 L524.1 910.1 L524.9 908.5 L525.3 906.7 L525.5 904.7 L555.8 911.8 L556 913.9 L556.4 915.9 L557.2 917.9 L558.2 919.8 L559.4 921.6 L560.9 923.3 L562.6 924.7 L564.3 925.9 L566.2 926.8 L568.1 927.4 L570.1 927.7 L572 927.7 L573.7 927.3 L575.4 926.7 L576.9 925.7 L578.1 924.5 L579.1 923.1 L579.9 921.4 L580.3 919.6 L580.5 917.6 L610.8 924.8 L611 926.8 L611.4 928.8 L612.2 930.8 L613.2 932.7 L614.4 934.5 L615.9 936.2 L617.6 937.6 L619.3 938.8 L621.2 939.7 L623.2 940.3 L625.1 940.6 L627 940.6 L628.7 940.2 L630.4 939.6 L631.9 938.6 L633.1 937.4 L634.1 936 L634.9 934.3 L635.3 932.5 L635.5 930.5 L653.1 934.7" fill="none" stroke="#1a1a1a" stroke-width="2.2" stroke-linejoin="round" stroke-linecap="round" />
<path d="M653.1 934.7 L766.7 893.8 L785.4 894.4 L785.4 934.2 L654.6 978.8 L646.2 976.8Z" fill="#fff" stroke="none"/>
<path d="M301.3 856.1 L328.9 862.6 L329.1 864.6 L329.5 866.6 L330.2 868.6 L331.3 870.6 L332.5 872.4 L334 874 L335.6 875.4 L337.4 876.6 L339.3 877.5 L341.2 878.1 L343.1 878.4 L345 878.4 L346.8 878 L348.5 877.4 L349.9 876.5 L351.2 875.2 L352.2 873.8 L352.9 872.1 L353.4 870.3 L353.5 868.4 L383.9 875.5 L384.1 877.5 L384.5 879.5 L385.2 881.5 L386.3 883.5 L387.5 885.3 L389 886.9 L390.6 888.3 L392.4 889.5 L394.3 890.4 L396.2 891 L398.1 891.3 L400 891.3 L401.8 891 L403.5 890.3 L404.9 889.4 L406.2 888.1 L407.2 886.7 L407.9 885 L408.4 883.2 L408.5 881.3 L438.9 888.4 L439.1 890.4 L439.5 892.4 L440.3 894.4 L441.3 896.4 L442.5 898.2 L444 899.8 L445.6 901.2 L447.4 902.4 L449.3 903.3 L451.2 903.9 L453.2 904.2 L455 904.2 L456.8 903.9 L458.5 903.2 L459.9 902.3 L461.2 901.1 L462.2 899.6 L462.9 897.9 L463.4 896.1 L463.5 894.2 L493.9 901.3 L494.1 903.3 L494.5 905.3 L495.3 907.4 L496.3 909.3 L497.5 911.1 L499 912.7 L500.6 914.1 L502.4 915.3 L504.3 916.2 L506.2 916.8 L508.2 917.1 L510 917.1 L511.8 916.8 L513.5 916.1 L514.9 915.2 L516.2 914 L517.2 912.5 L517.9 910.8 L518.4 909 L518.5 907.1 L548.9 914.2 L549.1 916.2 L549.5 918.3 L550.3 920.3 L551.3 922.2 L552.5 924 L554 925.6 L555.6 927.1 L557.4 928.2 L559.3 929.1 L561.2 929.7 L563.2 930 L565 930 L566.8 929.7 L568.5 929 L569.9 928.1 L571.2 926.9 L572.2 925.4 L573 923.8 L573.4 921.9 L573.6 920 L603.9 927.1 L604.1 929.1 L604.5 931.2 L605.3 933.2 L606.3 935.1 L607.5 936.9 L609 938.5 L610.7 940 L612.4 941.1 L614.3 942 L616.2 942.7 L618.2 942.9 L620 942.9 L621.8 942.6 L623.5 941.9 L625 941 L626.2 939.8 L627.2 938.3 L628 936.7 L628.4 934.8 L628.6 932.9 L654.6 939 L654.6 978.8 L301.3 895.9Z" fill="#fff" stroke="none"/>
<path d="M654.6 939 L654.6 978.8 L301.3 895.9 L301.3 856.1 L328.9 862.6 L329.1 864.6 L329.5 866.6 L330.2 868.6 L331.3 870.6 L332.5 872.4 L334 874 L335.6 875.4 L337.4 876.6 L339.3 877.5 L341.2 878.1 L343.1 878.4 L345 878.4 L346.8 878 L348.5 877.4 L349.9 876.5 L351.2 875.2 L352.2 873.8 L352.9 872.1 L353.4 870.3 L353.5 868.4 L383.9 875.5 L384.1 877.5 L384.5 879.5 L385.2 881.5 L386.3 883.5 L387.5 885.3 L389 886.9 L390.6 888.3 L392.4 889.5 L394.3 890.4 L396.2 891 L398.1 891.3 L400 891.3 L401.8 891 L403.5 890.3 L404.9 889.4 L406.2 888.1 L407.2 886.7 L407.9 885 L408.4 883.2 L408.5 881.3 L438.9 888.4 L439.1 890.4 L439.5 892.4 L440.3 894.4 L441.3 896.4 L442.5 898.2 L444 899.8 L445.6 901.2 L447.4 902.4 L449.3 903.3 L451.2 903.9 L453.2 904.2 L455 904.2 L456.8 903.9 L458.5 903.2 L459.9 902.3 L461.2 901.1 L462.2 899.6 L462.9 897.9 L463.4 896.1 L463.5 894.2 L493.9 901.3 L494.1 903.3 L494.5 905.3 L495.3 907.4 L496.3 909.3 L497.5 911.1 L499 912.7 L500.6 914.1 L502.4 915.3 L504.3 916.2 L506.2 916.8 L508.2 917.1 L510 917.1 L511.8 916.8 L513.5 916.1 L514.9 915.2 L516.2 914 L517.2 912.5 L517.9 910.8 L518.4 909 L518.5 907.1 L548.9 914.2 L549.1 916.2 L549.5 918.3 L550.3 920.3 L551.3 922.2 L552.5 924 L554 925.6 L555.6 927.1 L557.4 928.2 L559.3 929.1 L561.2 929.7 L563.2 930 L565 930 L566.8 929.7 L568.5 929 L569.9 928.1 L571.2 926.9 L572.2 925.4 L573 923.8 L573.4 921.9 L573.6 920 L603.9 927.1 L604.1 929.1 L604.5 931.2 L605.3 933.2 L606.3 935.1 L607.5 936.9 L609 938.5 L610.7 940 L612.4 941.1 L614.3 942 L616.2 942.7 L618.2 942.9 L620 942.9 L621.8 942.6 L623.5 941.9 L625 941 L626.2 939.8 L627.2 938.3 L628 936.7 L628.4 934.8 L628.6 932.9 L654.6 939" fill="none" stroke="#1a1a1a" stroke-width="2.2" stroke-linejoin="round" stroke-linecap="round" />
<path d="M301.3 856.1 L328.9 862.6 L335.8 860.2 L318 856.1Z" fill="#fff" stroke="none"/>
<path d="M328.9 862.6 L335.8 860.2" fill="none" stroke="#1a1a1a" stroke-width="1.9" stroke-linejoin="round" stroke-linecap="round" />
<path d="M318 856.1 L335.8 860.2" fill="none" stroke="#1a1a1a" stroke-width="2.2" stroke-linejoin="round" stroke-linecap="round" />
<path d="M301.3 856.1 L328.9 862.6" fill="none" stroke="#1a1a1a" stroke-width="2.2" stroke-linejoin="round" stroke-linecap="round" />
<path d="M353.5 868.4 L383.9 875.5 L390.8 873.1 L360.4 866Z" fill="#fff" stroke="none"/>
<path d="M353.5 868.4 L360.4 866" fill="none" stroke="#1a1a1a" stroke-width="1.9" stroke-linejoin="round" stroke-linecap="round" />
<path d="M383.9 875.5 L390.8 873.1" fill="none" stroke="#1a1a1a" stroke-width="1.9" stroke-linejoin="round" stroke-linecap="round" />
<path d="M360.4 866 L390.8 873.1" fill="none" stroke="#1a1a1a" stroke-width="2.2" stroke-linejoin="round" stroke-linecap="round" />
<path d="M353.5 868.4 L383.9 875.5" fill="none" stroke="#1a1a1a" stroke-width="2.2" stroke-linejoin="round" stroke-linecap="round" />
<path d="M408.5 881.3 L438.9 888.4 L445.8 886 L415.4 878.9Z" fill="#fff" stroke="none"/>
<path d="M408.5 881.3 L415.4 878.9" fill="none" stroke="#1a1a1a" stroke-width="1.9" stroke-linejoin="round" stroke-linecap="round" />
<path d="M438.9 888.4 L445.8 886" fill="none" stroke="#1a1a1a" stroke-width="1.9" stroke-linejoin="round" stroke-linecap="round" />
<path d="M415.4 878.9 L445.8 886" fill="none" stroke="#1a1a1a" stroke-width="2.2" stroke-linejoin="round" stroke-linecap="round" />
<path d="M408.5 881.3 L438.9 888.4" fill="none" stroke="#1a1a1a" stroke-width="2.2" stroke-linejoin="round" stroke-linecap="round" />
<path d="M463.5 894.2 L493.9 901.3 L500.8 898.9 L470.5 891.8Z" fill="#fff" stroke="none"/>
<path d="M463.5 894.2 L470.5 891.8" fill="none" stroke="#1a1a1a" stroke-width="1.9" stroke-linejoin="round" stroke-linecap="round" />
<path d="M493.9 901.3 L500.8 898.9" fill="none" stroke="#1a1a1a" stroke-width="1.9" stroke-linejoin="round" stroke-linecap="round" />
<path d="M470.5 891.8 L500.8 898.9" fill="none" stroke="#1a1a1a" stroke-width="2.2" stroke-linejoin="round" stroke-linecap="round" />
<path d="M463.5 894.2 L493.9 901.3" fill="none" stroke="#1a1a1a" stroke-width="2.2" stroke-linejoin="round" stroke-linecap="round" />
<path d="M518.5 907.1 L548.9 914.2 L555.8 911.8 L525.5 904.7Z" fill="#fff" stroke="none"/>
<path d="M518.5 907.1 L525.5 904.7" fill="none" stroke="#1a1a1a" stroke-width="1.9" stroke-linejoin="round" stroke-linecap="round" />
<path d="M548.9 914.2 L555.8 911.8" fill="none" stroke="#1a1a1a" stroke-width="1.9" stroke-linejoin="round" stroke-linecap="round" />
<path d="M525.5 904.7 L555.8 911.8" fill="none" stroke="#1a1a1a" stroke-width="2.2" stroke-linejoin="round" stroke-linecap="round" />
<path d="M518.5 907.1 L548.9 914.2" fill="none" stroke="#1a1a1a" stroke-width="2.2" stroke-linejoin="round" stroke-linecap="round" />
<path d="M573.6 920 L603.9 927.1 L610.8 924.8 L580.5 917.6Z" fill="#fff" stroke="none"/>
<path d="M573.6 920 L580.5 917.6" fill="none" stroke="#1a1a1a" stroke-width="1.9" stroke-linejoin="round" stroke-linecap="round" />
<path d="M603.9 927.1 L610.8 924.8" fill="none" stroke="#1a1a1a" stroke-width="1.9" stroke-linejoin="round" stroke-linecap="round" />
<path d="M580.5 917.6 L610.8 924.8" fill="none" stroke="#1a1a1a" stroke-width="2.2" stroke-linejoin="round" stroke-linecap="round" />
<path d="M573.6 920 L603.9 927.1" fill="none" stroke="#1a1a1a" stroke-width="2.2" stroke-linejoin="round" stroke-linecap="round" />
<path d="M628.6 932.9 L654.6 939 L653.1 934.7 L635.5 930.5Z" fill="#fff" stroke="none"/>
<path d="M628.6 932.9 L635.5 930.5" fill="none" stroke="#1a1a1a" stroke-width="1.9" stroke-linejoin="round" stroke-linecap="round" />
<path d="M635.5 930.5 L653.1 934.7" fill="none" stroke="#1a1a1a" stroke-width="2.2" stroke-linejoin="round" stroke-linecap="round" />
<path d="M628.6 932.9 L654.6 939" fill="none" stroke="#1a1a1a" stroke-width="2.2" stroke-linejoin="round" stroke-linecap="round" />
<path d="M301.3 856.1 L432.1 811.5 L785.4 894.4" fill="none" stroke="#1a1a1a" stroke-width="2.2" stroke-linejoin="round" stroke-linecap="round" />
<path d="M318 856.1 L435.3 816.1 L766.7 893.8 L653.1 934.7" fill="none" stroke="#1a1a1a" stroke-width="2.2" stroke-linejoin="round" stroke-linecap="round" />
<path d="M654.6 939 L785.4 894.4 L785.4 934.2 L654.6 978.8Z" fill="#fff" stroke="#1a1a1a" stroke-width="2.2" stroke-linejoin="round"/>
<path d="M695.3 953.8 Q695.3 951.2 697.8 950.4 L745.5 934.1 Q747.9 933.3 747.9 935.9 L747.9 947.4 Q747.9 950 745.5 950.8 L697.8 967.1 Q695.3 967.9 695.3 965.3 Z" fill="#fff" stroke="#1a1a1a" stroke-width="2.1" stroke-linejoin="round"/>
<ellipse cx="705" cy="956.2" rx="2.7" ry="3.3" transform="rotate(-19 705 956.2)" fill="#333" stroke="#0a0a0a" stroke-width="1.5"/>
<ellipse cx="740.1" cy="944.3" rx="2.7" ry="3.3" transform="rotate(-19 740.1 944.3)" fill="#333" stroke="#0a0a0a" stroke-width="1.5"/>
<path d="M301.3 976.3 L432.1 931.7 L785.4 1014.6 L785.4 1054.4 L654.6 1099 L301.3 1016.1Z" fill="#fff" stroke="none"/>
<path d="M318 1009.3 L435.3 969.3 L766.7 1047" fill="none" stroke="#1a1a1a" stroke-width="2.2" stroke-linejoin="round" stroke-linecap="round" />
<path d="M435.3 936.3 L435.3 969.3" fill="none" stroke="#1a1a1a" stroke-width="2.2" stroke-linejoin="round" stroke-linecap="round" />
<path d="M396.4 949.5 L401.3 950.7 L401.6 955.1 L402.5 959.5 L404 963.8 L406.1 968 L408.7 971.9 L411.7 975.4 L415 978.5 L418.7 981 L422.5 982.9 L426.5 984.2 L430.4 984.8 L434.3 984.7 L437.9 983.9 L441.3 982.4 L444.3 980.3 L446.9 977.6 L449 974.4 L450.5 970.7 L451.4 966.8 L451.7 962.5 L456.3 963.6 L456.6 968 L457.5 972.4 L459 976.8 L461.1 980.9 L463.7 984.8 L466.7 988.3 L470 991.4 L473.7 993.9 L477.6 995.8 L481.5 997.1 L485.4 997.7 L489.3 997.6 L492.9 996.8 L496.3 995.3 L499.3 993.2 L501.9 990.5 L504 987.3 L505.5 983.7 L506.4 979.7 L506.7 975.4 L511.3 976.5 L511.6 980.9 L512.5 985.3 L514 989.7 L516.1 993.8 L518.7 997.7 L521.7 1001.3 L525.1 1004.3 L528.7 1006.8 L532.6 1008.7 L536.5 1010 L540.4 1010.6 L544.3 1010.5 L547.9 1009.7 L551.3 1008.2 L554.3 1006.1 L556.9 1003.4 L559 1000.2 L560.5 996.6 L561.4 992.6 L561.7 988.3 L566.3 989.4 L566.6 993.8 L567.5 998.2 L569 1002.6 L571.1 1006.7 L573.7 1010.6 L576.7 1014.2 L580.1 1017.2 L583.7 1019.7 L587.6 1021.6 L591.5 1022.9 L595.5 1023.5 L599.3 1023.4 L603 1022.6 L606.3 1021.1 L609.3 1019 L611.9 1016.3 L614 1013.1 L615.5 1009.5 L616.4 1005.5 L616.7 1001.2 L621.3 1002.3 L621.6 1006.7 L622.5 1011.1 L624 1015.5 L626.1 1019.7 L628.7 1023.5 L631.7 1027.1 L635.1 1030.1 L638.7 1032.6 L642.6 1034.6 L646.5 1035.8 L650.5 1036.4 L654.3 1036.3 L658 1035.5 L661.3 1034 L664.3 1031.9 L666.9 1029.2 L669 1026 L670.5 1022.4 L671.4 1018.4 L671.7 1014.1 L676.3 1015.2 L676.6 1019.6 L677.5 1024 L679.1 1028.4 L681.1 1032.6 L683.7 1036.5 L686.7 1040 L690.1 1043 L693.7 1045.5 L697.6 1047.5 L701.5 1048.7 L705.5 1049.3 L709.3 1049.2 L713 1048.4 L716.3 1046.9 L719.3 1044.8 L721.9 1042.1 L724 1038.9 L725.5 1035.3 L726.4 1031.3 L726.7 1027 L729.3 1027.6 L729.3 1060.6 L396.4 982.5Z" fill="#fff" stroke="none"/>
<path d="M401.3 950.7 L401.6 955.1 L402.5 959.5 L404 963.8 L406.1 968 L408.7 971.9 L411.7 975.4 L415 978.5 L418.7 981 L422.5 982.9 L426.5 984.2 L430.4 984.8 L434.3 984.7 L437.9 983.9 L441.3 982.4 L444.3 980.3 L446.9 977.6 L449 974.4 L450.5 970.7 L451.4 966.8 L451.7 962.5 L456.3 963.6 L456.6 968 L457.5 972.4 L459 976.8 L461.1 980.9 L463.7 984.8 L466.7 988.3 L470 991.4 L473.7 993.9 L477.6 995.8 L481.5 997.1 L485.4 997.7 L489.3 997.6 L492.9 996.8 L496.3 995.3 L499.3 993.2 L501.9 990.5 L504 987.3 L505.5 983.7 L506.4 979.7 L506.7 975.4 L511.3 976.5 L511.6 980.9 L512.5 985.3 L514 989.7 L516.1 993.8 L518.7 997.7 L521.7 1001.3 L525.1 1004.3 L528.7 1006.8 L532.6 1008.7 L536.5 1010 L540.4 1010.6 L544.3 1010.5 L547.9 1009.7 L551.3 1008.2 L554.3 1006.1 L556.9 1003.4 L559 1000.2 L560.5 996.6 L561.4 992.6 L561.7 988.3 L566.3 989.4 L566.6 993.8 L567.5 998.2 L569 1002.6 L571.1 1006.7 L573.7 1010.6 L576.7 1014.2 L580.1 1017.2 L583.7 1019.7 L587.6 1021.6 L591.5 1022.9 L595.5 1023.5 L599.3 1023.4 L603 1022.6 L606.3 1021.1 L609.3 1019 L611.9 1016.3 L614 1013.1 L615.5 1009.5 L616.4 1005.5 L616.7 1001.2 L621.3 1002.3 L621.6 1006.7 L622.5 1011.1 L624 1015.5 L626.1 1019.7 L628.7 1023.5 L631.7 1027.1 L635.1 1030.1 L638.7 1032.6 L642.6 1034.6 L646.5 1035.8 L650.5 1036.4 L654.3 1036.3 L658 1035.5 L661.3 1034 L664.3 1031.9 L666.9 1029.2 L669 1026 L670.5 1022.4 L671.4 1018.4 L671.7 1014.1 L676.3 1015.2 L676.6 1019.6 L677.5 1024 L679.1 1028.4 L681.1 1032.6 L683.7 1036.5 L686.7 1040 L690.1 1043 L693.7 1045.5 L697.6 1047.5 L701.5 1048.7 L705.5 1049.3 L709.3 1049.2 L713 1048.4 L716.3 1046.9 L719.3 1044.8 L721.9 1042.1 L724 1038.9 L725.5 1035.3 L726.4 1031.3 L726.7 1027" fill="none" stroke="#1a1a1a" stroke-width="2.2" stroke-linejoin="round" stroke-linecap="round" />
<path d="M394.2 953.1 L394.3 955.3 L394.5 957.5 L394.9 959.7 L395.4 961.9 L396.1 964.1 L396.9 966.3 L397.9 968.4 L399 970.4 L400.2 972.4 L401.6 974.3 L403 976.2 L404.6 977.9 L406.2 979.5 L407.9 980.9 L409.7 982.2 L411.6 983.4 L413.5 984.5 L415.4 985.3 L417.4 986.1 L419.4 986.6 L421.4 987 L423.3 987.2 L425.3 987.2 L427.2 987.1 L429 986.8 L430.8 986.3 L437.9 983.9 L436.1 984.4 L434.3 984.7 L432.4 984.8 L430.4 984.8 L428.5 984.6 L426.5 984.2 L424.5 983.6 L422.5 982.9 L420.6 982 L418.7 981 L416.8 979.8 L415 978.5 L413.3 977 L411.7 975.4 L410.1 973.7 L408.7 971.9 L407.3 970 L406.1 968 L405 966 L404 963.8 L403.2 961.7 L402.5 959.5 L402 957.3 L401.6 955.1 L401.4 952.9 L401.3 950.7Z" fill="#fff" stroke="none"/>
<path d="M401.3 950.7 L401.4 952.9 L401.6 955.1 L402 957.3 L402.5 959.5 L403.2 961.7 L404 963.8 L405 966 L406.1 968 L407.3 970 L408.7 971.9 L410.1 973.7 L411.7 975.4 L413.3 977 L415 978.5 L416.8 979.8 L418.7 981 L420.6 982 L422.5 982.9 L424.5 983.6 L426.5 984.2 L428.5 984.6 L430.4 984.8 L432.4 984.8 L434.3 984.7 L436.1 984.4 L437.9 983.9" fill="none" stroke="#1a1a1a" stroke-width="2.2" stroke-linejoin="round" stroke-linecap="round" />
<path d="M449.2 966 L449.3 968.2 L449.5 970.4 L449.9 972.6 L450.4 974.8 L451.1 977 L451.9 979.2 L452.9 981.3 L454 983.4 L455.2 985.3 L456.6 987.2 L458 989.1 L459.6 990.8 L461.2 992.4 L463 993.8 L464.7 995.2 L466.6 996.3 L468.5 997.4 L470.5 998.3 L472.4 999 L474.4 999.5 L476.4 999.9 L478.3 1000.1 L480.3 1000.1 L482.2 1000 L484 999.7 L485.8 999.2 L492.9 996.8 L491.1 997.3 L489.3 997.6 L487.4 997.7 L485.4 997.7 L483.5 997.5 L481.5 997.1 L479.5 996.5 L477.6 995.8 L475.6 995 L473.7 993.9 L471.8 992.7 L470 991.4 L468.3 989.9 L466.7 988.3 L465.1 986.6 L463.7 984.8 L462.3 982.9 L461.1 980.9 L460 978.9 L459 976.8 L458.2 974.6 L457.5 972.4 L457 970.2 L456.6 968 L456.4 965.8 L456.3 963.6Z" fill="#fff" stroke="none"/>
<path d="M456.3 963.6 L456.4 965.8 L456.6 968 L457 970.2 L457.5 972.4 L458.2 974.6 L459 976.8 L460 978.9 L461.1 980.9 L462.3 982.9 L463.7 984.8 L465.1 986.6 L466.7 988.3 L468.3 989.9 L470 991.4 L471.8 992.7 L473.7 993.9 L475.6 995 L477.6 995.8 L479.5 996.5 L481.5 997.1 L483.5 997.5 L485.4 997.7 L487.4 997.7 L489.3 997.6 L491.1 997.3 L492.9 996.8" fill="none" stroke="#1a1a1a" stroke-width="2.2" stroke-linejoin="round" stroke-linecap="round" />
<path d="M504.2 978.9 L504.3 981.1 L504.5 983.3 L504.9 985.5 L505.4 987.7 L506.1 989.9 L506.9 992.1 L507.9 994.2 L509 996.3 L510.2 998.2 L511.6 1000.2 L513 1002 L514.6 1003.7 L516.2 1005.3 L518 1006.7 L519.8 1008.1 L521.6 1009.2 L523.5 1010.3 L525.5 1011.2 L527.4 1011.9 L529.4 1012.4 L531.4 1012.8 L533.3 1013 L535.3 1013 L537.2 1012.9 L539.1 1012.6 L540.9 1012.1 L547.9 1009.7 L546.2 1010.2 L544.3 1010.5 L542.4 1010.6 L540.4 1010.6 L538.5 1010.4 L536.5 1010 L534.5 1009.5 L532.6 1008.7 L530.6 1007.9 L528.7 1006.8 L526.9 1005.6 L525.1 1004.3 L523.3 1002.8 L521.7 1001.3 L520.1 999.5 L518.7 997.7 L517.3 995.8 L516.1 993.8 L515 991.8 L514 989.7 L513.2 987.5 L512.5 985.3 L512 983.1 L511.6 980.9 L511.4 978.7 L511.3 976.5Z" fill="#fff" stroke="none"/>
<path d="M511.3 976.5 L511.4 978.7 L511.6 980.9 L512 983.1 L512.5 985.3 L513.2 987.5 L514 989.7 L515 991.8 L516.1 993.8 L517.3 995.8 L518.7 997.7 L520.1 999.5 L521.7 1001.3 L523.3 1002.8 L525.1 1004.3 L526.9 1005.6 L528.7 1006.8 L530.6 1007.9 L532.6 1008.7 L534.5 1009.5 L536.5 1010 L538.5 1010.4 L540.4 1010.6 L542.4 1010.6 L544.3 1010.5 L546.2 1010.2 L547.9 1009.7" fill="none" stroke="#1a1a1a" stroke-width="2.2" stroke-linejoin="round" stroke-linecap="round" />
<path d="M559.2 991.8 L559.3 994 L559.5 996.2 L559.9 998.4 L560.4 1000.6 L561.1 1002.8 L561.9 1005 L562.9 1007.1 L564 1009.2 L565.2 1011.2 L566.6 1013.1 L568 1014.9 L569.6 1016.6 L571.2 1018.2 L573 1019.6 L574.8 1021 L576.6 1022.2 L578.5 1023.2 L580.5 1024.1 L582.4 1024.8 L584.4 1025.3 L586.4 1025.7 L588.4 1025.9 L590.3 1025.9 L592.2 1025.8 L594.1 1025.5 L595.9 1025 L603 1022.6 L601.2 1023.1 L599.3 1023.4 L597.4 1023.5 L595.5 1023.5 L593.5 1023.3 L591.5 1022.9 L589.5 1022.4 L587.6 1021.6 L585.6 1020.8 L583.7 1019.7 L581.9 1018.5 L580.1 1017.2 L578.3 1015.8 L576.7 1014.2 L575.1 1012.5 L573.7 1010.6 L572.3 1008.7 L571.1 1006.7 L570 1004.7 L569 1002.6 L568.2 1000.4 L567.5 998.2 L567 996 L566.6 993.8 L566.4 991.6 L566.3 989.4Z" fill="#fff" stroke="none"/>
<path d="M566.3 989.4 L566.4 991.6 L566.6 993.8 L567 996 L567.5 998.2 L568.2 1000.4 L569 1002.6 L570 1004.7 L571.1 1006.7 L572.3 1008.7 L573.7 1010.6 L575.1 1012.5 L576.7 1014.2 L578.3 1015.8 L580.1 1017.2 L581.9 1018.5 L583.7 1019.7 L585.6 1020.8 L587.6 1021.6 L589.5 1022.4 L591.5 1022.9 L593.5 1023.3 L595.5 1023.5 L597.4 1023.5 L599.3 1023.4 L601.2 1023.1 L603 1022.6" fill="none" stroke="#1a1a1a" stroke-width="2.2" stroke-linejoin="round" stroke-linecap="round" />
<path d="M614.2 1004.7 L614.3 1006.9 L614.5 1009.1 L614.9 1011.3 L615.4 1013.5 L616.1 1015.7 L616.9 1017.9 L617.9 1020 L619 1022.1 L620.2 1024.1 L621.6 1026 L623 1027.8 L624.6 1029.5 L626.2 1031.1 L628 1032.5 L629.8 1033.9 L631.6 1035.1 L633.5 1036.1 L635.5 1037 L637.4 1037.7 L639.4 1038.2 L641.4 1038.6 L643.4 1038.8 L645.3 1038.9 L647.2 1038.7 L649.1 1038.4 L650.9 1037.9 L658 1035.5 L656.2 1036 L654.3 1036.3 L652.4 1036.4 L650.5 1036.4 L648.5 1036.2 L646.5 1035.8 L644.5 1035.3 L642.6 1034.6 L640.6 1033.7 L638.7 1032.6 L636.9 1031.5 L635.1 1030.1 L633.3 1028.7 L631.7 1027.1 L630.1 1025.4 L628.7 1023.5 L627.3 1021.6 L626.1 1019.7 L625 1017.6 L624 1015.5 L623.2 1013.3 L622.5 1011.1 L622 1008.9 L621.6 1006.7 L621.4 1004.5 L621.3 1002.3Z" fill="#fff" stroke="none"/>
<path d="M621.3 1002.3 L621.4 1004.5 L621.6 1006.7 L622 1008.9 L622.5 1011.1 L623.2 1013.3 L624 1015.5 L625 1017.6 L626.1 1019.7 L627.3 1021.6 L628.7 1023.5 L630.1 1025.4 L631.7 1027.1 L633.3 1028.7 L635.1 1030.1 L636.9 1031.5 L638.7 1032.6 L640.6 1033.7 L642.6 1034.6 L644.5 1035.3 L646.5 1035.8 L648.5 1036.2 L650.5 1036.4 L652.4 1036.4 L654.3 1036.3 L656.2 1036 L658 1035.5" fill="none" stroke="#1a1a1a" stroke-width="2.2" stroke-linejoin="round" stroke-linecap="round" />
<path d="M669.2 1017.6 L669.3 1019.8 L669.5 1022 L669.9 1024.2 L670.4 1026.4 L671.1 1028.6 L672 1030.8 L672.9 1032.9 L674 1035 L675.2 1037 L676.6 1038.9 L678 1040.7 L679.6 1042.4 L681.2 1044 L683 1045.4 L684.8 1046.8 L686.6 1048 L688.5 1049 L690.5 1049.9 L692.4 1050.6 L694.4 1051.1 L696.4 1051.5 L698.4 1051.7 L700.3 1051.8 L702.2 1051.6 L704.1 1051.3 L705.9 1050.8 L713 1048.4 L711.2 1048.9 L709.3 1049.2 L707.4 1049.3 L705.5 1049.3 L703.5 1049.1 L701.5 1048.7 L699.5 1048.2 L697.6 1047.5 L695.6 1046.6 L693.7 1045.5 L691.9 1044.4 L690.1 1043 L688.3 1041.6 L686.7 1040 L685.1 1038.3 L683.7 1036.5 L682.3 1034.5 L681.1 1032.6 L680 1030.5 L679.1 1028.4 L678.2 1026.2 L677.5 1024 L677 1021.8 L676.6 1019.6 L676.4 1017.4 L676.3 1015.2Z" fill="#fff" stroke="none"/>
<path d="M676.3 1015.2 L676.4 1017.4 L676.6 1019.6 L677 1021.8 L677.5 1024 L678.2 1026.2 L679.1 1028.4 L680 1030.5 L681.1 1032.6 L682.3 1034.5 L683.7 1036.5 L685.1 1038.3 L686.7 1040 L688.3 1041.6 L690.1 1043 L691.9 1044.4 L693.7 1045.5 L695.6 1046.6 L697.6 1047.5 L699.5 1048.2 L701.5 1048.7 L703.5 1049.1 L705.5 1049.3 L707.4 1049.3 L709.3 1049.2 L711.2 1048.9 L713 1048.4" fill="none" stroke="#1a1a1a" stroke-width="2.2" stroke-linejoin="round" stroke-linecap="round" />
<path d="M389.3 952 L394.2 953.1 L394.5 957.5 L395.4 961.9 L396.9 966.3 L399 970.4 L401.6 974.3 L404.6 977.9 L407.9 980.9 L411.6 983.4 L415.4 985.3 L419.4 986.6 L423.3 987.2 L427.2 987.1 L430.8 986.3 L434.2 984.8 L437.2 982.7 L439.8 980 L441.9 976.8 L443.4 973.2 L444.3 969.2 L444.6 964.9 L449.2 966 L449.5 970.4 L450.4 974.8 L451.9 979.2 L454 983.4 L456.6 987.2 L459.6 990.8 L463 993.8 L466.6 996.3 L470.5 998.3 L474.4 999.5 L478.3 1000.1 L482.2 1000 L485.8 999.2 L489.2 997.7 L492.2 995.6 L494.8 992.9 L496.9 989.7 L498.4 986.1 L499.3 982.1 L499.6 977.8 L504.2 978.9 L504.5 983.3 L505.4 987.7 L506.9 992.1 L509 996.3 L511.6 1000.2 L514.6 1003.7 L518 1006.7 L521.6 1009.2 L525.5 1011.2 L529.4 1012.4 L533.3 1013 L537.2 1012.9 L540.9 1012.1 L544.2 1010.6 L547.2 1008.5 L549.8 1005.8 L551.9 1002.6 L553.4 999 L554.3 995 L554.6 990.7 L559.2 991.8 L559.5 996.2 L560.4 1000.6 L561.9 1005 L564 1009.2 L566.6 1013.1 L569.6 1016.6 L573 1019.6 L576.6 1022.2 L580.5 1024.1 L584.4 1025.3 L588.4 1025.9 L592.2 1025.8 L595.9 1025 L599.2 1023.5 L602.2 1021.4 L604.8 1018.7 L606.9 1015.5 L608.4 1011.9 L609.3 1007.9 L609.6 1003.6 L614.2 1004.7 L614.5 1009.1 L615.4 1013.5 L616.9 1017.9 L619 1022.1 L621.6 1026 L624.6 1029.5 L628 1032.5 L631.6 1035.1 L635.5 1037 L639.4 1038.2 L643.4 1038.8 L647.2 1038.7 L650.9 1037.9 L654.2 1036.4 L657.2 1034.3 L659.8 1031.6 L661.9 1028.4 L663.4 1024.8 L664.3 1020.8 L664.6 1016.6 L669.2 1017.6 L669.5 1022 L670.4 1026.4 L672 1030.8 L674 1035 L676.6 1038.9 L679.6 1042.4 L683 1045.4 L686.6 1048 L690.5 1049.9 L694.4 1051.1 L698.4 1051.7 L702.2 1051.6 L705.9 1050.8 L709.2 1049.4 L712.2 1047.2 L714.8 1044.6 L716.9 1041.3 L718.4 1037.7 L719.3 1033.7 L719.6 1029.5 L722.2 1030.1 L722.2 1063.1 L389.3 985Z" fill="#fff" stroke="none"/>
<path d="M722.2 1063.1 L389.3 985 L389.3 952 L394.2 953.1 L394.5 957.5 L395.4 961.9 L396.9 966.3 L399 970.4 L401.6 974.3 L404.6 977.9 L407.9 980.9 L411.6 983.4 L415.4 985.3 L419.4 986.6 L423.3 987.2 L427.2 987.1 L430.8 986.3 L434.2 984.8 L437.2 982.7 L439.8 980 L441.9 976.8 L443.4 973.2 L444.3 969.2 L444.6 964.9 L449.2 966 L449.5 970.4 L450.4 974.8 L451.9 979.2 L454 983.4 L456.6 987.2 L459.6 990.8 L463 993.8 L466.6 996.3 L470.5 998.3 L474.4 999.5 L478.3 1000.1 L482.2 1000 L485.8 999.2 L489.2 997.7 L492.2 995.6 L494.8 992.9 L496.9 989.7 L498.4 986.1 L499.3 982.1 L499.6 977.8 L504.2 978.9 L504.5 983.3 L505.4 987.7 L506.9 992.1 L509 996.3 L511.6 1000.2 L514.6 1003.7 L518 1006.7 L521.6 1009.2 L525.5 1011.2 L529.4 1012.4 L533.3 1013 L537.2 1012.9 L540.9 1012.1 L544.2 1010.6 L547.2 1008.5 L549.8 1005.8 L551.9 1002.6 L553.4 999 L554.3 995 L554.6 990.7 L559.2 991.8 L559.5 996.2 L560.4 1000.6 L561.9 1005 L564 1009.2 L566.6 1013.1 L569.6 1016.6 L573 1019.6 L576.6 1022.2 L580.5 1024.1 L584.4 1025.3 L588.4 1025.9 L592.2 1025.8 L595.9 1025 L599.2 1023.5 L602.2 1021.4 L604.8 1018.7 L606.9 1015.5 L608.4 1011.9 L609.3 1007.9 L609.6 1003.6 L614.2 1004.7 L614.5 1009.1 L615.4 1013.5 L616.9 1017.9 L619 1022.1 L621.6 1026 L624.6 1029.5 L628 1032.5 L631.6 1035.1 L635.5 1037 L639.4 1038.2 L643.4 1038.8 L647.2 1038.7 L650.9 1037.9 L654.2 1036.4 L657.2 1034.3 L659.8 1031.6 L661.9 1028.4 L663.4 1024.8 L664.3 1020.8 L664.6 1016.6 L669.2 1017.6 L669.5 1022 L670.4 1026.4 L672 1030.8 L674 1035 L676.6 1038.9 L679.6 1042.4 L683 1045.4 L686.6 1048 L690.5 1049.9 L694.4 1051.1 L698.4 1051.7 L702.2 1051.6 L705.9 1050.8 L709.2 1049.4 L712.2 1047.2 L714.8 1044.6 L716.9 1041.3 L718.4 1037.7 L719.3 1033.7 L719.6 1029.5 L722.2 1030.1" fill="none" stroke="#1a1a1a" stroke-width="2.2" stroke-linejoin="round" stroke-linecap="round" />
<path d="M389.3 952 L394.2 953.1 L401.3 950.7 L396.4 949.5Z" fill="#fff" stroke="none"/>
<path d="M394.2 953.1 L401.3 950.7" fill="none" stroke="#1a1a1a" stroke-width="1.9" stroke-linejoin="round" stroke-linecap="round" />
<path d="M396.4 949.5 L401.3 950.7" fill="none" stroke="#1a1a1a" stroke-width="2.2" stroke-linejoin="round" stroke-linecap="round" />
<path d="M389.3 952 L394.2 953.1" fill="none" stroke="#1a1a1a" stroke-width="2.2" stroke-linejoin="round" stroke-linecap="round" />
<path d="M444.6 964.9 L449.2 966 L456.3 963.6 L451.7 962.5Z" fill="#fff" stroke="none"/>
<path d="M444.6 964.9 L451.7 962.5" fill="none" stroke="#1a1a1a" stroke-width="1.9" stroke-linejoin="round" stroke-linecap="round" />
<path d="M449.2 966 L456.3 963.6" fill="none" stroke="#1a1a1a" stroke-width="1.9" stroke-linejoin="round" stroke-linecap="round" />
<path d="M451.7 962.5 L456.3 963.6" fill="none" stroke="#1a1a1a" stroke-width="2.2" stroke-linejoin="round" stroke-linecap="round" />
<path d="M444.6 964.9 L449.2 966" fill="none" stroke="#1a1a1a" stroke-width="2.2" stroke-linejoin="round" stroke-linecap="round" />
<path d="M499.6 977.8 L504.2 978.9 L511.3 976.5 L506.7 975.4Z" fill="#fff" stroke="none"/>
<path d="M499.6 977.8 L506.7 975.4" fill="none" stroke="#1a1a1a" stroke-width="1.9" stroke-linejoin="round" stroke-linecap="round" />
<path d="M504.2 978.9 L511.3 976.5" fill="none" stroke="#1a1a1a" stroke-width="1.9" stroke-linejoin="round" stroke-linecap="round" />
<path d="M506.7 975.4 L511.3 976.5" fill="none" stroke="#1a1a1a" stroke-width="2.2" stroke-linejoin="round" stroke-linecap="round" />
<path d="M499.6 977.8 L504.2 978.9" fill="none" stroke="#1a1a1a" stroke-width="2.2" stroke-linejoin="round" stroke-linecap="round" />
<path d="M554.6 990.7 L559.2 991.8 L566.3 989.4 L561.7 988.3Z" fill="#fff" stroke="none"/>
<path d="M554.6 990.7 L561.7 988.3" fill="none" stroke="#1a1a1a" stroke-width="1.9" stroke-linejoin="round" stroke-linecap="round" />
<path d="M559.2 991.8 L566.3 989.4" fill="none" stroke="#1a1a1a" stroke-width="1.9" stroke-linejoin="round" stroke-linecap="round" />
<path d="M561.7 988.3 L566.3 989.4" fill="none" stroke="#1a1a1a" stroke-width="2.2" stroke-linejoin="round" stroke-linecap="round" />
<path d="M554.6 990.7 L559.2 991.8" fill="none" stroke="#1a1a1a" stroke-width="2.2" stroke-linejoin="round" stroke-linecap="round" />
<path d="M609.6 1003.6 L614.2 1004.7 L621.3 1002.3 L616.7 1001.2Z" fill="#fff" stroke="none"/>
<path d="M609.6 1003.6 L616.7 1001.2" fill="none" stroke="#1a1a1a" stroke-width="1.9" stroke-linejoin="round" stroke-linecap="round" />
<path d="M614.2 1004.7 L621.3 1002.3" fill="none" stroke="#1a1a1a" stroke-width="1.9" stroke-linejoin="round" stroke-linecap="round" />
<path d="M616.7 1001.2 L621.3 1002.3" fill="none" stroke="#1a1a1a" stroke-width="2.2" stroke-linejoin="round" stroke-linecap="round" />
<path d="M609.6 1003.6 L614.2 1004.7" fill="none" stroke="#1a1a1a" stroke-width="2.2" stroke-linejoin="round" stroke-linecap="round" />
<path d="M664.6 1016.6 L669.2 1017.6 L676.3 1015.2 L671.7 1014.1Z" fill="#fff" stroke="none"/>
<path d="M664.6 1016.6 L671.7 1014.1" fill="none" stroke="#1a1a1a" stroke-width="1.9" stroke-linejoin="round" stroke-linecap="round" />
<path d="M669.2 1017.6 L676.3 1015.2" fill="none" stroke="#1a1a1a" stroke-width="1.9" stroke-linejoin="round" stroke-linecap="round" />
<path d="M671.7 1014.1 L676.3 1015.2" fill="none" stroke="#1a1a1a" stroke-width="2.2" stroke-linejoin="round" stroke-linecap="round" />
<path d="M664.6 1016.6 L669.2 1017.6" fill="none" stroke="#1a1a1a" stroke-width="2.2" stroke-linejoin="round" stroke-linecap="round" />
<path d="M719.6 1029.5 L722.2 1030.1 L729.3 1027.6 L726.7 1027Z" fill="#fff" stroke="none"/>
<path d="M719.6 1029.5 L726.7 1027" fill="none" stroke="#1a1a1a" stroke-width="1.9" stroke-linejoin="round" stroke-linecap="round" />
<path d="M726.7 1027 L729.3 1027.6" fill="none" stroke="#1a1a1a" stroke-width="2.2" stroke-linejoin="round" stroke-linecap="round" />
<path d="M719.6 1029.5 L722.2 1030.1" fill="none" stroke="#1a1a1a" stroke-width="2.2" stroke-linejoin="round" stroke-linecap="round" />
<path d="M318 976.3 L335.8 980.4 L336 982.4 L336.4 984.5 L337.2 986.5 L338.2 988.4 L339.4 990.2 L340.9 991.8 L342.5 993.3 L344.3 994.4 L346.2 995.4 L348.1 996 L350.1 996.3 L351.9 996.2 L353.7 995.9 L355.4 995.2 L356.8 994.3 L358.1 993.1 L359.1 991.6 L359.8 990 L360.3 988.1 L360.4 986.2 L390.8 993.3 L391 995.3 L391.4 997.4 L392.2 999.4 L393.2 1001.3 L394.4 1003.1 L395.9 1004.8 L397.5 1006.2 L399.3 1007.4 L401.2 1008.3 L403.1 1008.9 L405.1 1009.2 L406.9 1009.1 L408.7 1008.8 L410.4 1008.1 L411.8 1007.2 L413.1 1006 L414.1 1004.5 L414.8 1002.9 L415.3 1001.1 L415.4 999.1 L445.8 1006.2 L446 1008.2 L446.4 1010.3 L447.2 1012.3 L448.2 1014.2 L449.4 1016 L450.9 1017.7 L452.5 1019.1 L454.3 1020.3 L456.2 1021.2 L458.1 1021.8 L460.1 1022.1 L461.9 1022 L463.7 1021.7 L465.4 1021.1 L466.8 1020.1 L468.1 1018.9 L469.1 1017.4 L469.8 1015.8 L470.3 1014 L470.5 1012 L500.8 1019.1 L501 1021.2 L501.4 1023.2 L502.2 1025.2 L503.2 1027.1 L504.4 1028.9 L505.9 1030.6 L507.6 1032 L509.3 1033.2 L511.2 1034.1 L513.1 1034.7 L515.1 1035 L516.9 1035 L518.7 1034.6 L520.4 1034 L521.8 1033 L523.1 1031.8 L524.1 1030.3 L524.9 1028.7 L525.3 1026.9 L525.5 1024.9 L555.8 1032 L556 1034.1 L556.4 1036.1 L557.2 1038.1 L558.2 1040 L559.4 1041.8 L560.9 1043.5 L562.6 1044.9 L564.3 1046.1 L566.2 1047 L568.1 1047.6 L570.1 1047.9 L572 1047.9 L573.7 1047.5 L575.4 1046.9 L576.9 1045.9 L578.1 1044.7 L579.1 1043.3 L579.9 1041.6 L580.3 1039.8 L580.5 1037.8 L610.8 1045 L611 1047 L611.4 1049 L612.2 1051 L613.2 1052.9 L614.4 1054.7 L615.9 1056.4 L617.6 1057.8 L619.3 1059 L621.2 1059.9 L623.2 1060.5 L625.1 1060.8 L627 1060.8 L628.7 1060.4 L630.4 1059.8 L631.9 1058.8 L633.1 1057.6 L634.1 1056.2 L634.9 1054.5 L635.3 1052.7 L635.5 1050.7 L653.1 1054.9 L653.1 1087.9 L318 1009.3Z" fill="#fff" stroke="none"/>
<path d="M318 976.3 L335.8 980.4 L336 982.4 L336.4 984.5 L337.2 986.5 L338.2 988.4 L339.4 990.2 L340.9 991.8 L342.5 993.3 L344.3 994.4 L346.2 995.4 L348.1 996 L350.1 996.3 L351.9 996.2 L353.7 995.9 L355.4 995.2 L356.8 994.3 L358.1 993.1 L359.1 991.6 L359.8 990 L360.3 988.1 L360.4 986.2 L390.8 993.3 L391 995.3 L391.4 997.4 L392.2 999.4 L393.2 1001.3 L394.4 1003.1 L395.9 1004.8 L397.5 1006.2 L399.3 1007.4 L401.2 1008.3 L403.1 1008.9 L405.1 1009.2 L406.9 1009.1 L408.7 1008.8 L410.4 1008.1 L411.8 1007.2 L413.1 1006 L414.1 1004.5 L414.8 1002.9 L415.3 1001.1 L415.4 999.1 L445.8 1006.2 L446 1008.2 L446.4 1010.3 L447.2 1012.3 L448.2 1014.2 L449.4 1016 L450.9 1017.7 L452.5 1019.1 L454.3 1020.3 L456.2 1021.2 L458.1 1021.8 L460.1 1022.1 L461.9 1022 L463.7 1021.7 L465.4 1021.1 L466.8 1020.1 L468.1 1018.9 L469.1 1017.4 L469.8 1015.8 L470.3 1014 L470.5 1012 L500.8 1019.1 L501 1021.2 L501.4 1023.2 L502.2 1025.2 L503.2 1027.1 L504.4 1028.9 L505.9 1030.6 L507.6 1032 L509.3 1033.2 L511.2 1034.1 L513.1 1034.7 L515.1 1035 L516.9 1035 L518.7 1034.6 L520.4 1034 L521.8 1033 L523.1 1031.8 L524.1 1030.3 L524.9 1028.7 L525.3 1026.9 L525.5 1024.9 L555.8 1032 L556 1034.1 L556.4 1036.1 L557.2 1038.1 L558.2 1040 L559.4 1041.8 L560.9 1043.5 L562.6 1044.9 L564.3 1046.1 L566.2 1047 L568.1 1047.6 L570.1 1047.9 L572 1047.9 L573.7 1047.5 L575.4 1046.9 L576.9 1045.9 L578.1 1044.7 L579.1 1043.3 L579.9 1041.6 L580.3 1039.8 L580.5 1037.8 L610.8 1045 L611 1047 L611.4 1049 L612.2 1051 L613.2 1052.9 L614.4 1054.7 L615.9 1056.4 L617.6 1057.8 L619.3 1059 L621.2 1059.9 L623.2 1060.5 L625.1 1060.8 L627 1060.8 L628.7 1060.4 L630.4 1059.8 L631.9 1058.8 L633.1 1057.6 L634.1 1056.2 L634.9 1054.5 L635.3 1052.7 L635.5 1050.7 L653.1 1054.9" fill="none" stroke="#1a1a1a" stroke-width="2.2" stroke-linejoin="round" stroke-linecap="round" />
<path d="M653.1 1054.9 L766.7 1014 L785.4 1014.6 L785.4 1054.4 L654.6 1099 L646.2 1097Z" fill="#fff" stroke="none"/>
<path d="M301.3 976.3 L328.9 982.8 L329.1 984.8 L329.5 986.8 L330.2 988.8 L331.3 990.8 L332.5 992.6 L334 994.2 L335.6 995.6 L337.4 996.8 L339.3 997.7 L341.2 998.3 L343.1 998.6 L345 998.6 L346.8 998.2 L348.5 997.6 L349.9 996.7 L351.2 995.4 L352.2 994 L352.9 992.3 L353.4 990.5 L353.5 988.6 L383.9 995.7 L384.1 997.7 L384.5 999.7 L385.2 1001.7 L386.3 1003.7 L387.5 1005.5 L389 1007.1 L390.6 1008.5 L392.4 1009.7 L394.3 1010.6 L396.2 1011.2 L398.1 1011.5 L400 1011.5 L401.8 1011.2 L403.5 1010.5 L404.9 1009.6 L406.2 1008.3 L407.2 1006.9 L407.9 1005.2 L408.4 1003.4 L408.5 1001.5 L438.9 1008.6 L439.1 1010.6 L439.5 1012.6 L440.3 1014.6 L441.3 1016.6 L442.5 1018.4 L444 1020 L445.6 1021.4 L447.4 1022.6 L449.3 1023.5 L451.2 1024.1 L453.2 1024.4 L455 1024.4 L456.8 1024.1 L458.5 1023.4 L459.9 1022.5 L461.2 1021.3 L462.2 1019.8 L462.9 1018.1 L463.4 1016.3 L463.5 1014.4 L493.9 1021.5 L494.1 1023.5 L494.5 1025.5 L495.3 1027.6 L496.3 1029.5 L497.5 1031.3 L499 1032.9 L500.6 1034.3 L502.4 1035.5 L504.3 1036.4 L506.2 1037 L508.2 1037.3 L510 1037.3 L511.8 1037 L513.5 1036.3 L514.9 1035.4 L516.2 1034.2 L517.2 1032.7 L517.9 1031 L518.4 1029.2 L518.5 1027.3 L548.9 1034.4 L549.1 1036.4 L549.5 1038.5 L550.3 1040.5 L551.3 1042.4 L552.5 1044.2 L554 1045.8 L555.6 1047.3 L557.4 1048.4 L559.3 1049.3 L561.2 1049.9 L563.2 1050.2 L565 1050.2 L566.8 1049.9 L568.5 1049.2 L569.9 1048.3 L571.2 1047.1 L572.2 1045.6 L573 1044 L573.4 1042.1 L573.6 1040.2 L603.9 1047.3 L604.1 1049.3 L604.5 1051.4 L605.3 1053.4 L606.3 1055.3 L607.5 1057.1 L609 1058.7 L610.7 1060.2 L612.4 1061.3 L614.3 1062.2 L616.2 1062.9 L618.2 1063.1 L620 1063.1 L621.8 1062.8 L623.5 1062.1 L625 1061.2 L626.2 1060 L627.2 1058.5 L628 1056.9 L628.4 1055 L628.6 1053.1 L654.6 1059.2 L654.6 1099 L301.3 1016.1Z" fill="#fff" stroke="none"/>
<path d="M654.6 1059.2 L654.6 1099 L301.3 1016.1 L301.3 976.3 L328.9 982.8 L329.1 984.8 L329.5 986.8 L330.2 988.8 L331.3 990.8 L332.5 992.6 L334 994.2 L335.6 995.6 L337.4 996.8 L339.3 997.7 L341.2 998.3 L343.1 998.6 L345 998.6 L346.8 998.2 L348.5 997.6 L349.9 996.7 L351.2 995.4 L352.2 994 L352.9 992.3 L353.4 990.5 L353.5 988.6 L383.9 995.7 L384.1 997.7 L384.5 999.7 L385.2 1001.7 L386.3 1003.7 L387.5 1005.5 L389 1007.1 L390.6 1008.5 L392.4 1009.7 L394.3 1010.6 L396.2 1011.2 L398.1 1011.5 L400 1011.5 L401.8 1011.2 L403.5 1010.5 L404.9 1009.6 L406.2 1008.3 L407.2 1006.9 L407.9 1005.2 L408.4 1003.4 L408.5 1001.5 L438.9 1008.6 L439.1 1010.6 L439.5 1012.6 L440.3 1014.6 L441.3 1016.6 L442.5 1018.4 L444 1020 L445.6 1021.4 L447.4 1022.6 L449.3 1023.5 L451.2 1024.1 L453.2 1024.4 L455 1024.4 L456.8 1024.1 L458.5 1023.4 L459.9 1022.5 L461.2 1021.3 L462.2 1019.8 L462.9 1018.1 L463.4 1016.3 L463.5 1014.4 L493.9 1021.5 L494.1 1023.5 L494.5 1025.5 L495.3 1027.6 L496.3 1029.5 L497.5 1031.3 L499 1032.9 L500.6 1034.3 L502.4 1035.5 L504.3 1036.4 L506.2 1037 L508.2 1037.3 L510 1037.3 L511.8 1037 L513.5 1036.3 L514.9 1035.4 L516.2 1034.2 L517.2 1032.7 L517.9 1031 L518.4 1029.2 L518.5 1027.3 L548.9 1034.4 L549.1 1036.4 L549.5 1038.5 L550.3 1040.5 L551.3 1042.4 L552.5 1044.2 L554 1045.8 L555.6 1047.3 L557.4 1048.4 L559.3 1049.3 L561.2 1049.9 L563.2 1050.2 L565 1050.2 L566.8 1049.9 L568.5 1049.2 L569.9 1048.3 L571.2 1047.1 L572.2 1045.6 L573 1044 L573.4 1042.1 L573.6 1040.2 L603.9 1047.3 L604.1 1049.3 L604.5 1051.4 L605.3 1053.4 L606.3 1055.3 L607.5 1057.1 L609 1058.7 L610.7 1060.2 L612.4 1061.3 L614.3 1062.2 L616.2 1062.9 L618.2 1063.1 L620 1063.1 L621.8 1062.8 L623.5 1062.1 L625 1061.2 L626.2 1060 L627.2 1058.5 L628 1056.9 L628.4 1055 L628.6 1053.1 L654.6 1059.2" fill="none" stroke="#1a1a1a" stroke-width="2.2" stroke-linejoin="round" stroke-linecap="round" />
<path d="M301.3 976.3 L328.9 982.8 L335.8 980.4 L318 976.3Z" fill="#fff" stroke="none"/>
<path d="M328.9 982.8 L335.8 980.4" fill="none" stroke="#1a1a1a" stroke-width="1.9" stroke-linejoin="round" stroke-linecap="round" />
<path d="M318 976.3 L335.8 980.4" fill="none" stroke="#1a1a1a" stroke-width="2.2" stroke-linejoin="round" stroke-linecap="round" />
<path d="M301.3 976.3 L328.9 982.8" fill="none" stroke="#1a1a1a" stroke-width="2.2" stroke-linejoin="round" stroke-linecap="round" />
<path d="M353.5 988.6 L383.9 995.7 L390.8 993.3 L360.4 986.2Z" fill="#fff" stroke="none"/>
<path d="M353.5 988.6 L360.4 986.2" fill="none" stroke="#1a1a1a" stroke-width="1.9" stroke-linejoin="round" stroke-linecap="round" />
<path d="M383.9 995.7 L390.8 993.3" fill="none" stroke="#1a1a1a" stroke-width="1.9" stroke-linejoin="round" stroke-linecap="round" />
<path d="M360.4 986.2 L390.8 993.3" fill="none" stroke="#1a1a1a" stroke-width="2.2" stroke-linejoin="round" stroke-linecap="round" />
<path d="M353.5 988.6 L383.9 995.7" fill="none" stroke="#1a1a1a" stroke-width="2.2" stroke-linejoin="round" stroke-linecap="round" />
<path d="M408.5 1001.5 L438.9 1008.6 L445.8 1006.2 L415.4 999.1Z" fill="#fff" stroke="none"/>
<path d="M408.5 1001.5 L415.4 999.1" fill="none" stroke="#1a1a1a" stroke-width="1.9" stroke-linejoin="round" stroke-linecap="round" />
<path d="M438.9 1008.6 L445.8 1006.2" fill="none" stroke="#1a1a1a" stroke-width="1.9" stroke-linejoin="round" stroke-linecap="round" />
<path d="M415.4 999.1 L445.8 1006.2" fill="none" stroke="#1a1a1a" stroke-width="2.2" stroke-linejoin="round" stroke-linecap="round" />
<path d="M408.5 1001.5 L438.9 1008.6" fill="none" stroke="#1a1a1a" stroke-width="2.2" stroke-linejoin="round" stroke-linecap="round" />
<path d="M463.5 1014.4 L493.9 1021.5 L500.8 1019.1 L470.5 1012Z" fill="#fff" stroke="none"/>
<path d="M463.5 1014.4 L470.5 1012" fill="none" stroke="#1a1a1a" stroke-width="1.9" stroke-linejoin="round" stroke-linecap="round" />
<path d="M493.9 1021.5 L500.8 1019.1" fill="none" stroke="#1a1a1a" stroke-width="1.9" stroke-linejoin="round" stroke-linecap="round" />
<path d="M470.5 1012 L500.8 1019.1" fill="none" stroke="#1a1a1a" stroke-width="2.2" stroke-linejoin="round" stroke-linecap="round" />
<path d="M463.5 1014.4 L493.9 1021.5" fill="none" stroke="#1a1a1a" stroke-width="2.2" stroke-linejoin="round" stroke-linecap="round" />
<path d="M518.5 1027.3 L548.9 1034.4 L555.8 1032 L525.5 1024.9Z" fill="#fff" stroke="none"/>
<path d="M518.5 1027.3 L525.5 1024.9" fill="none" stroke="#1a1a1a" stroke-width="1.9" stroke-linejoin="round" stroke-linecap="round" />
<path d="M548.9 1034.4 L555.8 1032" fill="none" stroke="#1a1a1a" stroke-width="1.9" stroke-linejoin="round" stroke-linecap="round" />
<path d="M525.5 1024.9 L555.8 1032" fill="none" stroke="#1a1a1a" stroke-width="2.2" stroke-linejoin="round" stroke-linecap="round" />
<path d="M518.5 1027.3 L548.9 1034.4" fill="none" stroke="#1a1a1a" stroke-width="2.2" stroke-linejoin="round" stroke-linecap="round" />
<path d="M573.6 1040.2 L603.9 1047.3 L610.8 1045 L580.5 1037.8Z" fill="#fff" stroke="none"/>
<path d="M573.6 1040.2 L580.5 1037.8" fill="none" stroke="#1a1a1a" stroke-width="1.9" stroke-linejoin="round" stroke-linecap="round" />
<path d="M603.9 1047.3 L610.8 1045" fill="none" stroke="#1a1a1a" stroke-width="1.9" stroke-linejoin="round" stroke-linecap="round" />
<path d="M580.5 1037.8 L610.8 1045" fill="none" stroke="#1a1a1a" stroke-width="2.2" stroke-linejoin="round" stroke-linecap="round" />
<path d="M573.6 1040.2 L603.9 1047.3" fill="none" stroke="#1a1a1a" stroke-width="2.2" stroke-linejoin="round" stroke-linecap="round" />
<path d="M628.6 1053.1 L654.6 1059.2 L653.1 1054.9 L635.5 1050.7Z" fill="#fff" stroke="none"/>
<path d="M628.6 1053.1 L635.5 1050.7" fill="none" stroke="#1a1a1a" stroke-width="1.9" stroke-linejoin="round" stroke-linecap="round" />
<path d="M635.5 1050.7 L653.1 1054.9" fill="none" stroke="#1a1a1a" stroke-width="2.2" stroke-linejoin="round" stroke-linecap="round" />
<path d="M628.6 1053.1 L654.6 1059.2" fill="none" stroke="#1a1a1a" stroke-width="2.2" stroke-linejoin="round" stroke-linecap="round" />
<path d="M301.3 976.3 L432.1 931.7 L785.4 1014.6" fill="none" stroke="#1a1a1a" stroke-width="2.2" stroke-linejoin="round" stroke-linecap="round" />
<path d="M318 976.3 L435.3 936.3 L766.7 1014 L653.1 1054.9" fill="none" stroke="#1a1a1a" stroke-width="2.2" stroke-linejoin="round" stroke-linecap="round" />
<path d="M654.6 1059.2 L785.4 1014.6 L785.4 1054.4 L654.6 1099Z" fill="#fff" stroke="#1a1a1a" stroke-width="2.2" stroke-linejoin="round"/>
<path d="M695.3 1074 Q695.3 1071.4 697.8 1070.6 L745.5 1054.3 Q747.9 1053.5 747.9 1056.1 L747.9 1067.6 Q747.9 1070.2 745.5 1071 L697.8 1087.3 Q695.3 1088.1 695.3 1085.5 Z" fill="#fff" stroke="#1a1a1a" stroke-width="2.1" stroke-linejoin="round"/>
<ellipse cx="705" cy="1076.4" rx="2.7" ry="3.3" transform="rotate(-19 705 1076.4)" fill="#333" stroke="#0a0a0a" stroke-width="1.5"/>
<ellipse cx="740.1" cy="1064.5" rx="2.7" ry="3.3" transform="rotate(-19 740.1 1064.5)" fill="#333" stroke="#0a0a0a" stroke-width="1.5"/>
<g transform="translate(793.6,202) rotate(-18)"><ellipse rx="24" ry="31.4" fill="#fff" stroke="#1a1a1a" stroke-width="2.1"/><ellipse cx="0.9" cy="-0.3" rx="23.9" ry="31.4" fill="none" stroke="#1a1a1a" stroke-width="1.5"/></g>
<ellipse cx="780.4" cy="184.4" rx="2.4" ry="3.1" fill="#111"/>
<ellipse cx="805.8" cy="190.1" rx="2.4" ry="3.1" fill="#111"/>
<ellipse cx="780.4" cy="216.4" rx="2.4" ry="3.1" fill="#111"/>
<ellipse cx="805.5" cy="221.2" rx="2.4" ry="3.1" fill="#111"/>
<g transform="translate(792.5,1114.5) rotate(-18)"><ellipse rx="24" ry="31.4" fill="#fff" stroke="#1a1a1a" stroke-width="2.1"/><ellipse cx="0.9" cy="-0.3" rx="23.9" ry="31.4" fill="none" stroke="#1a1a1a" stroke-width="1.5"/></g>
<ellipse cx="779.2" cy="1096.9" rx="2.4" ry="3.1" fill="#111"/>
<ellipse cx="804.7" cy="1102.6" rx="2.4" ry="3.1" fill="#111"/>
<ellipse cx="779.2" cy="1128.9" rx="2.4" ry="3.1" fill="#111"/>
<ellipse cx="804.4" cy="1133.7" rx="2.4" ry="3.1" fill="#111"/>
<path d="M792.5 1114.3 L757 1126.2 Q752.5 1127.7 748 1128.2 C735 1129.5 727.5 1117 727.5 1096.5 L727.5 260.8 C727.5 237.8 735 223.4 753 216.7 L794.1 201.8" fill="none" stroke="#1a1a1a" stroke-width="17.9"/>
<ellipse cx="792.5" cy="1114.3" rx="5.4" ry="7.9" transform="rotate(-18.5 792.5 1114.3)" fill="#fff" stroke="#1a1a1a" stroke-width="2.1"/>
<ellipse cx="794.1" cy="201.8" rx="5.4" ry="7.9" transform="rotate(-18.5 794.1 201.8)" fill="#fff" stroke="#1a1a1a" stroke-width="2.1"/>
<path d="M792.5 1114.3 L757 1126.2 Q752.5 1127.7 748 1128.2 C735 1129.5 727.5 1117 727.5 1096.5 L727.5 260.8 C727.5 237.8 735 223.4 753 216.7 L794.1 201.8" fill="none" stroke="#fff" stroke-width="13.7"/>
<path d="M718.3 700.5 C722 703.6 733 703.6 736.9 700.5 L736.9 704.6 C733 707.7 722 707.7 718.3 704.6 Z" fill="#fff" stroke="#1a1a1a" stroke-width="1.6"/>
<path d="M736.8 678.5 C740.3 679.5 740.3 686.5 736.8 687.5 Z" fill="#1a1a1a"/>
<g style="opacity:0.999">
<line x1="405" y1="46.6" x2="832.5" y2="154.6" stroke="#202020" stroke-width="1.2"/>
<path d="M405 46.6 L420.2 47.8 L418.9 52.8 Z" fill="#202020"/>
<path d="M832.5 154.6 L817.3 153.4 L818.6 148.4 Z" fill="#202020"/>
<line x1="404.8" y1="42" x2="392.5" y2="90" stroke="#202020" stroke-width="1.2"/>
<line x1="834.3" y1="150" x2="819.3" y2="207" stroke="#202020" stroke-width="1.2"/>
<text transform="translate(564.2,80.4) rotate(14.2)" font-family="'Liberation Sans', sans-serif" font-size="38" fill="#1e1e1e" stroke="#fff" stroke-width="0.8" textLength="115.4" lengthAdjust="spacingAndGlyphs">60.5cm</text>
<line x1="790" y1="171" x2="916.5" y2="171" stroke="#202020" stroke-width="1.2"/>
<line x1="800" y1="1144.8" x2="916.5" y2="1144.8" stroke="#202020" stroke-width="1.2"/>
<line x1="911.5" y1="171" x2="911.5" y2="1144.8" stroke="#202020" stroke-width="1.2"/>
<path d="M911.5 171 L914.1 186 L908.9 186 Z" fill="#202020"/>
<path d="M911.5 1144.8 L908.9 1129.8 L914.1 1129.8 Z" fill="#202020"/>
<text transform="translate(906.3,727.5) rotate(-90)" font-family="'Liberation Sans', sans-serif" font-size="38" fill="#1e1e1e" stroke="#fff" stroke-width="0.8" textLength="123.9" lengthAdjust="spacingAndGlyphs">120.1cm</text>
<line x1="224.3" y1="277.5" x2="321.8" y2="277.5" stroke="#202020" stroke-width="1.2"/>
<line x1="224.5" y1="277.5" x2="224.5" y2="308" stroke="#202020" stroke-width="1.2"/>
<path d="M224.5 308 L221.9 293 L227.1 293 Z" fill="#202020"/>
<line x1="220" y1="308.4" x2="287" y2="308.4" stroke="#202020" stroke-width="1.2"/>
<line x1="220" y1="342.4" x2="293.5" y2="342.4" stroke="#202020" stroke-width="1.2"/>
<line x1="220" y1="346.5" x2="284" y2="346.5" stroke="#202020" stroke-width="1.2"/>
<text transform="translate(226.7,272) rotate(0)" font-family="'Liberation Sans', sans-serif" font-size="38" fill="#1e1e1e" stroke="#fff" stroke-width="0.8" textLength="98.8" lengthAdjust="spacingAndGlyphs">3.5cm</text>
<line x1="224.5" y1="346.5" x2="224.5" y2="653" stroke="#202020" stroke-width="1.2"/>
<path d="M224.5 346.5 L227.1 361.5 L221.9 361.5 Z" fill="#202020"/>
<path d="M224.5 653 L221.9 638 L227.1 638 Z" fill="#202020"/>
<line x1="220" y1="653.8" x2="293.8" y2="653.8" stroke="#202020" stroke-width="1.2"/>
<text transform="translate(219.8,543.4) rotate(-90)" font-family="'Liberation Sans', sans-serif" font-size="38" fill="#1e1e1e" stroke="#fff" stroke-width="0.8" textLength="86.7" lengthAdjust="spacingAndGlyphs">37cm</text>
<line x1="266.9" y1="774.3" x2="266.9" y2="857.5" stroke="#202020" stroke-width="1.2"/>
<path d="M266.9 774.3 L269.6 788.6 L264.1 788.6 Z" fill="#202020"/>
<path d="M266.9 857.5 L264.1 843.2 L269.6 843.2 Z" fill="#202020"/>
<line x1="261.7" y1="774.3" x2="301" y2="774.3" stroke="#202020" stroke-width="1.2"/>
<line x1="261.7" y1="857.6" x2="301" y2="857.6" stroke="#202020" stroke-width="1.2"/>
<text transform="translate(261.2,857.9) rotate(-90)" font-family="'Liberation Sans', sans-serif" font-size="38" fill="#1e1e1e" stroke="#fff" stroke-width="0.8" textLength="81.7" lengthAdjust="spacingAndGlyphs">10cm</text>
<line x1="302" y1="326" x2="642" y2="405.5" stroke="#202020" stroke-width="1.2"/>
<path d="M302 326 L317.2 326.9 L316 331.9 Z" fill="#202020"/>
<path d="M642 405.5 L626.8 404.6 L628 399.6 Z" fill="#202020"/>
<line x1="302" y1="321" x2="298.5" y2="337" stroke="#202020" stroke-width="1.2"/>
<line x1="647.5" y1="401.5" x2="643.2" y2="422.5" stroke="#202020" stroke-width="1.2"/>
<text transform="translate(433.5,350.9) rotate(13.2)" font-family="'Liberation Sans', sans-serif" font-size="38" fill="#1e1e1e" stroke="#fff" stroke-width="0.8" textLength="86" lengthAdjust="spacingAndGlyphs">53cm</text>
<line x1="738" y1="450.5" x2="870" y2="405.5" stroke="#202020" stroke-width="1.2"/>
<path d="M738 450.5 L751.4 443.2 L753 448.1 Z" fill="#202020"/>
<path d="M870 405.5 L856.6 412.8 L855 407.9 Z" fill="#202020"/>
<line x1="664" y1="433.3" x2="747" y2="454" stroke="#202020" stroke-width="1.2"/>
<line x1="786.8" y1="385.7" x2="877.5" y2="407" stroke="#202020" stroke-width="1.2"/>
<text transform="translate(755.7,439.1) rotate(-18.6)" font-family="'Liberation Sans', sans-serif" font-size="38" fill="#1e1e1e" stroke="#fff" stroke-width="0.8" textLength="86.9" lengthAdjust="spacingAndGlyphs">25cm</text>
</g>
</svg>
</body></html>
